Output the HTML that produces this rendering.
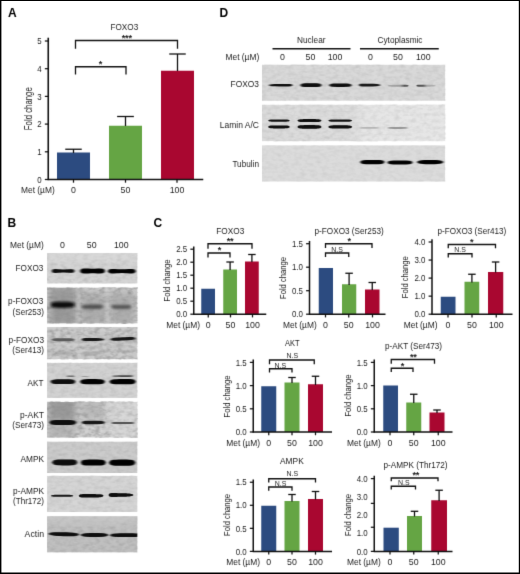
<!DOCTYPE html>
<html lang="en"><head><meta charset="utf-8"><title>Figure</title>
<style>
html,body{margin:0;padding:0;background:#fff;}
body{width:520px;height:574px;overflow:hidden;}
svg{display:block;font-family:"Liberation Sans",sans-serif;}
</style></head><body>
<svg width="520" height="574" viewBox="0 0 520 574">
<defs>
<filter id="b1" x="-20%" y="-100%" width="140%" height="300%"><feGaussianBlur stdDeviation="0.9 0.7"/></filter>
<filter id="b2" x="-20%" y="-100%" width="140%" height="300%"><feGaussianBlur stdDeviation="1.6 1.2"/></filter>
<filter id="b3" x="-30%" y="-30%" width="160%" height="160%"><feGaussianBlur stdDeviation="3.5"/></filter>
<filter id="b0" x="-20%" y="-100%" width="140%" height="300%"><feGaussianBlur stdDeviation="0.6 0.45"/></filter>
<filter id="nz" x="0" y="0" width="100%" height="100%"><feTurbulence type="fractalNoise" baseFrequency="0.18 0.3" numOctaves="2" seed="4"/><feColorMatrix type="matrix" values="0 0 0 0 0  0 0 0 0 0  0 0 0 0 0  0.7 0.7 0.7 0 -0.9"/></filter>
<filter id="nz2" x="0" y="0" width="100%" height="100%"><feTurbulence type="fractalNoise" baseFrequency="0.15 0.25" numOctaves="2" seed="9"/><feColorMatrix type="matrix" values="0 0 0 0 1  0 0 0 0 1  0 0 0 0 1  0.7 0.7 0.7 0 -0.9"/></filter>
<filter id="soft" filterUnits="userSpaceOnUse" x="0" y="0" width="520" height="574" color-interpolation-filters="sRGB"><feConvolveMatrix order="3" kernelMatrix="0 1 0 1 7 1 0 1 0" divisor="11" edgeMode="duplicate" preserveAlpha="false"/></filter>
</defs>
<rect x="0" y="0" width="520" height="574" fill="#fff"/>

<g id="figure" filter="url(#soft)">
<g id="panelA">
<text x="8" y="16.5" font-size="12" font-weight="bold" fill="#000">A</text>
<rect x="57" y="152.5" width="33.00" height="27.00" fill="#2c4b80"/>
<rect x="109" y="125.75" width="33.00" height="53.75" fill="#65a544"/>
<rect x="161" y="70.75" width="33.00" height="108.75" fill="#a90730"/>
<line x1="73.5" y1="149.25" x2="73.5" y2="153" stroke="#111" stroke-width="1.3"/>
<line x1="65.25" y1="149.25" x2="81.75" y2="149.25" stroke="#111" stroke-width="1.3"/>
<line x1="125.5" y1="116.5" x2="125.5" y2="126" stroke="#111" stroke-width="1.3"/>
<line x1="117.125" y1="116.5" x2="133.875" y2="116.5" stroke="#111" stroke-width="1.3"/>
<line x1="177.5" y1="54" x2="177.5" y2="71" stroke="#111" stroke-width="1.3"/>
<line x1="169.25" y1="54" x2="185.75" y2="54" stroke="#111" stroke-width="1.3"/>
<line x1="48.25" y1="37.7" x2="48.25" y2="180.1" stroke="#111" stroke-width="1.6"/>
<line x1="47.65" y1="179.5" x2="203.25" y2="179.5" stroke="#111" stroke-width="1.6"/>
<line x1="44.85" y1="179.5" x2="48.25" y2="179.5" stroke="#111" stroke-width="1.25"/>
<line x1="44.85" y1="151.8" x2="48.25" y2="151.8" stroke="#111" stroke-width="1.25"/>
<line x1="44.85" y1="124.1" x2="48.25" y2="124.1" stroke="#111" stroke-width="1.25"/>
<line x1="44.85" y1="96.4" x2="48.25" y2="96.4" stroke="#111" stroke-width="1.25"/>
<line x1="44.85" y1="68.7" x2="48.25" y2="68.7" stroke="#111" stroke-width="1.25"/>
<line x1="44.85" y1="41.0" x2="48.25" y2="41.0" stroke="#111" stroke-width="1.25"/>
<text x="41.65" y="182.67" font-size="8.8" text-anchor="end" textLength="4.4" lengthAdjust="spacingAndGlyphs" fill="#1c1c1c">0</text>
<text x="41.65" y="154.97" font-size="8.8" text-anchor="end" textLength="4.4" lengthAdjust="spacingAndGlyphs" fill="#1c1c1c">1</text>
<text x="41.65" y="127.27" font-size="8.8" text-anchor="end" textLength="4.4" lengthAdjust="spacingAndGlyphs" fill="#1c1c1c">2</text>
<text x="41.65" y="99.57" font-size="8.8" text-anchor="end" textLength="4.4" lengthAdjust="spacingAndGlyphs" fill="#1c1c1c">3</text>
<text x="41.65" y="71.87" font-size="8.8" text-anchor="end" textLength="4.4" lengthAdjust="spacingAndGlyphs" fill="#1c1c1c">4</text>
<text x="41.65" y="44.17" font-size="8.8" text-anchor="end" textLength="4.4" lengthAdjust="spacingAndGlyphs" fill="#1c1c1c">5</text>
<line x1="73.5" y1="179.5" x2="73.5" y2="182.7" stroke="#111" stroke-width="1.25"/>
<line x1="125.5" y1="179.5" x2="125.5" y2="182.7" stroke="#111" stroke-width="1.25"/>
<line x1="177" y1="179.5" x2="177" y2="182.7" stroke="#111" stroke-width="1.25"/>
<text x="110.5" y="30.17" font-size="8.8" textLength="27.75" lengthAdjust="spacingAndGlyphs" fill="#1c1c1c">FOXO3</text>
<text transform="translate(32.00,108.7) rotate(-90)" font-size="10.6" text-anchor="middle" textLength="43" lengthAdjust="spacingAndGlyphs" fill="#1c1c1c">Fold change</text>
<text x="21" y="192.67" font-size="8.8" textLength="33.75" lengthAdjust="spacingAndGlyphs" fill="#1c1c1c">Met (µM)</text>
<text x="73.5" y="192.67" font-size="8.8" text-anchor="middle" fill="#1c1c1c">0</text>
<text x="125.5" y="192.67" font-size="8.8" text-anchor="middle" fill="#1c1c1c">50</text>
<text x="177" y="192.67" font-size="8.8" text-anchor="middle" fill="#1c1c1c">100</text>
<path d="M75.5 48.75V40.5H177.5V48.75" fill="none" stroke="#111" stroke-width="1.3"/>
<text x="126.75" y="41.29" font-size="9.2" font-weight="bold" text-anchor="middle" fill="#222" letter-spacing="-0.3">***</text>
<path d="M75.5 74.5V66.75H126V74.5" fill="none" stroke="#111" stroke-width="1.3"/>
<text x="100.5" y="67.29" font-size="9.2" font-weight="bold" text-anchor="middle" fill="#222" letter-spacing="-0.3">*</text>
</g>
<g id="panelD">
<text x="219.6" y="16.5" font-size="12" font-weight="bold" fill="#000">D</text>
<text x="311.25" y="42.67" font-size="8.8" text-anchor="middle" textLength="28.5" lengthAdjust="spacingAndGlyphs" fill="#1c1c1c">Nuclear</text>
<text x="400" y="42.67" font-size="8.8" text-anchor="middle" textLength="45" lengthAdjust="spacingAndGlyphs" fill="#1c1c1c">Cytoplasmic</text>
<line x1="272.5" y1="48.75" x2="350.5" y2="48.75" stroke="#111" stroke-width="1.5"/>
<line x1="360" y1="48.75" x2="438.75" y2="48.75" stroke="#111" stroke-width="1.5"/>
<text x="225.5" y="60.17" font-size="8.8" textLength="33.75" lengthAdjust="spacingAndGlyphs" fill="#1c1c1c">Met (µM)</text>
<text x="282.5" y="60.17" font-size="8.8" text-anchor="middle" fill="#1c1c1c">0</text>
<text x="310.5" y="60.17" font-size="8.8" text-anchor="middle" fill="#1c1c1c">50</text>
<text x="335" y="60.17" font-size="8.8" text-anchor="middle" fill="#1c1c1c">100</text>
<text x="370.5" y="60.17" font-size="8.8" text-anchor="middle" fill="#1c1c1c">0</text>
<text x="398" y="60.17" font-size="8.8" text-anchor="middle" fill="#1c1c1c">50</text>
<text x="423.25" y="60.17" font-size="8.8" text-anchor="middle" fill="#1c1c1c">100</text>
<text x="259" y="87.37" font-size="8.8" text-anchor="end" textLength="28.4" lengthAdjust="spacingAndGlyphs" fill="#1c1c1c">FOXO3</text>
<text x="259" y="127.77" font-size="8.8" text-anchor="end" textLength="39.2" lengthAdjust="spacingAndGlyphs" fill="#1c1c1c">Lamin A/C</text>
<text x="259" y="167.37" font-size="8.8" text-anchor="end" textLength="26.6" lengthAdjust="spacingAndGlyphs" fill="#1c1c1c">Tubulin</text>
<linearGradient id="gD2" x1="0" x2="1" y1="0" y2="0"><stop offset="0" stop-color="#dadada"/><stop offset="0.5" stop-color="#dcdcdc"/><stop offset="0.56" stop-color="#e5e5e5"/><stop offset="1" stop-color="#e6e6e6"/></linearGradient>
<linearGradient id="gF5" x1="0" x2="1" y1="0" y2="0"><stop offset="0" stop-color="#a8a8a8"/><stop offset="0.6" stop-color="#9a9a9a"/><stop offset="0.8" stop-color="#505050"/><stop offset="1" stop-color="#606060"/></linearGradient>
<linearGradient id="gF6" x1="0" x2="1" y1="0" y2="0"><stop offset="0" stop-color="#4a4a4a"/><stop offset="0.35" stop-color="#555"/><stop offset="0.55" stop-color="#a5a5a5"/><stop offset="1" stop-color="#b0b0b0"/></linearGradient>
<rect x="262" y="64.8" width="183.10" height="35.90" fill="#d8d8d8"/>
<rect x="262" y="64.8" width="183.10" height="35.90" filter="url(#nz)" opacity="0.12"/>
<rect x="262" y="64.8" width="183.10" height="35.90" filter="url(#nz2)" opacity="0.10"/>
<path d="M268.6 85.20 L269.6 84.59 L270.6 84.39 L271.6 84.26 L272.6 84.18 L273.6 84.12 L274.6 84.08 L275.6 84.06 L276.6 84.04 L277.6 84.02 L278.6 84.01 L279.6 84.00 L280.6 84.00 L281.7 83.99 L282.7 83.98 L283.7 83.97 L284.7 83.95 L285.7 83.93 L286.7 83.92 L287.7 83.92 L288.7 83.94 L289.7 83.99 L290.7 84.10 L291.7 84.33 L292.7 85.20 L292.7 85.20 L291.7 86.07 L290.7 86.30 L289.7 86.41 L288.7 86.46 L287.7 86.48 L286.7 86.48 L285.7 86.47 L284.7 86.45 L283.7 86.43 L282.7 86.42 L281.7 86.41 L280.6 86.40 L279.6 86.40 L278.6 86.39 L277.6 86.38 L276.6 86.36 L275.6 86.34 L274.6 86.32 L273.6 86.28 L272.6 86.22 L271.6 86.14 L270.6 86.01 L269.6 85.81 L268.6 85.20Z" fill="#111" opacity="1" filter="url(#b1)"/>
<path d="M300.2 85.20 L301.1 84.07 L302.0 83.73 L302.9 83.54 L303.8 83.43 L304.7 83.37 L305.6 83.33 L306.5 83.31 L307.4 83.30 L308.3 83.30 L309.2 83.30 L310.1 83.30 L310.9 83.30 L311.8 83.30 L312.7 83.30 L313.6 83.30 L314.5 83.30 L315.4 83.31 L316.3 83.33 L317.2 83.37 L318.1 83.43 L319.0 83.54 L319.9 83.73 L320.8 84.07 L321.7 85.20 L321.7 85.20 L320.8 86.33 L319.9 86.67 L319.0 86.86 L318.1 86.97 L317.2 87.03 L316.3 87.07 L315.4 87.09 L314.5 87.10 L313.6 87.10 L312.7 87.10 L311.8 87.10 L310.9 87.10 L310.1 87.10 L309.2 87.10 L308.3 87.10 L307.4 87.10 L306.5 87.09 L305.6 87.07 L304.7 87.03 L303.8 86.97 L302.9 86.86 L302.0 86.67 L301.1 86.33 L300.2 85.20Z" fill="#080808" opacity="1" filter="url(#b1)"/>
<path d="M329.0 85.20 L329.9 84.19 L330.9 83.89 L331.9 83.72 L332.8 83.62 L333.8 83.56 L334.7 83.53 L335.6 83.51 L336.6 83.50 L337.6 83.50 L338.5 83.50 L339.4 83.50 L340.4 83.50 L341.4 83.50 L342.3 83.50 L343.2 83.50 L344.2 83.50 L345.2 83.51 L346.1 83.53 L347.1 83.56 L348.0 83.62 L348.9 83.72 L349.9 83.89 L350.9 84.19 L351.8 85.20 L351.8 85.20 L350.9 86.21 L349.9 86.51 L348.9 86.68 L348.0 86.78 L347.1 86.84 L346.1 86.87 L345.2 86.89 L344.2 86.90 L343.2 86.90 L342.3 86.90 L341.4 86.90 L340.4 86.90 L339.4 86.90 L338.5 86.90 L337.6 86.90 L336.6 86.90 L335.6 86.89 L334.7 86.87 L333.8 86.84 L332.8 86.78 L331.9 86.68 L330.9 86.51 L329.9 86.21 L329.0 85.20Z" fill="#080808" opacity="1" filter="url(#b1)"/>
<path d="M358.6 85.10 L359.5 84.11 L360.4 83.84 L361.3 83.71 L362.2 83.65 L363.2 83.63 L364.1 83.62 L365.0 83.64 L365.9 83.65 L366.8 83.67 L367.7 83.68 L368.6 83.69 L369.6 83.70 L370.5 83.71 L371.4 83.72 L372.3 83.74 L373.2 83.77 L374.1 83.81 L375.0 83.85 L375.9 83.91 L376.9 83.99 L377.8 84.10 L378.7 84.25 L379.6 84.48 L380.5 85.10 L380.5 85.10 L379.6 85.72 L378.7 85.95 L377.8 86.10 L376.9 86.21 L375.9 86.29 L375.0 86.35 L374.1 86.39 L373.2 86.43 L372.3 86.46 L371.4 86.48 L370.5 86.49 L369.6 86.50 L368.6 86.51 L367.7 86.52 L366.8 86.53 L365.9 86.55 L365.0 86.56 L364.1 86.58 L363.2 86.57 L362.2 86.55 L361.3 86.49 L360.4 86.36 L359.5 86.09 L358.6 85.10Z" fill="#161616" opacity="1" filter="url(#b1)"/>
<path d="M387.5 85.80 L388.4 85.26 L389.3 85.08 L390.2 84.98 L391.1 84.92 L391.9 84.88 L392.8 84.85 L393.7 84.83 L394.6 84.82 L395.5 84.81 L396.4 84.81 L397.3 84.80 L398.1 84.80 L399.0 84.80 L399.9 84.79 L400.8 84.78 L401.7 84.77 L402.6 84.76 L403.5 84.75 L404.4 84.75 L405.2 84.77 L406.1 84.82 L407.0 84.91 L407.9 85.10 L408.8 85.80 L408.8 85.80 L407.9 86.50 L407.0 86.69 L406.1 86.78 L405.2 86.83 L404.4 86.85 L403.5 86.85 L402.6 86.84 L401.7 86.83 L400.8 86.82 L399.9 86.81 L399.0 86.80 L398.1 86.80 L397.3 86.80 L396.4 86.79 L395.5 86.79 L394.6 86.78 L393.7 86.77 L392.8 86.75 L391.9 86.72 L391.1 86.68 L390.2 86.62 L389.3 86.52 L388.4 86.34 L387.5 85.80Z" fill="url(#gF5)" opacity="1" filter="url(#b0)"/>
<path d="M416.2 85.70 L417.0 85.00 L417.8 84.81 L418.6 84.72 L419.5 84.67 L420.3 84.65 L421.1 84.65 L421.9 84.66 L422.7 84.67 L423.6 84.68 L424.4 84.69 L425.2 84.70 L426.0 84.70 L426.8 84.70 L427.6 84.71 L428.4 84.72 L429.3 84.74 L430.1 84.76 L430.9 84.78 L431.7 84.82 L432.5 84.87 L433.4 84.94 L434.2 85.04 L435.0 85.21 L435.8 85.70 L435.8 85.70 L435.0 86.19 L434.2 86.36 L433.4 86.46 L432.5 86.53 L431.7 86.58 L430.9 86.62 L430.1 86.64 L429.3 86.66 L428.4 86.68 L427.6 86.69 L426.8 86.70 L426.0 86.70 L425.2 86.70 L424.4 86.71 L423.6 86.72 L422.7 86.73 L421.9 86.74 L421.1 86.75 L420.3 86.75 L419.5 86.73 L418.6 86.68 L417.8 86.59 L417.0 86.40 L416.2 85.70Z" fill="url(#gF6)" opacity="1" filter="url(#b0)"/>
<rect x="262" y="104.8" width="183.10" height="36.30" fill="url(#gD2)"/>
<rect x="262" y="104.8" width="183.10" height="36.30" filter="url(#nz)" opacity="0.12"/>
<rect x="262" y="104.8" width="183.10" height="36.30" filter="url(#nz2)" opacity="0.10"/>
<path d="M268.0 120.60 L268.9 119.92 L269.8 119.71 L270.7 119.60 L271.6 119.53 L272.6 119.49 L273.5 119.47 L274.4 119.46 L275.3 119.45 L276.2 119.45 L277.1 119.45 L278.0 119.45 L278.9 119.45 L279.9 119.45 L280.8 119.45 L281.7 119.45 L282.6 119.45 L283.5 119.46 L284.4 119.47 L285.3 119.49 L286.2 119.53 L287.2 119.60 L288.1 119.71 L289.0 119.92 L289.9 120.60 L289.9 120.60 L289.0 121.28 L288.1 121.49 L287.2 121.60 L286.2 121.67 L285.3 121.71 L284.4 121.73 L283.5 121.74 L282.6 121.75 L281.7 121.75 L280.8 121.75 L279.9 121.75 L278.9 121.75 L278.0 121.75 L277.1 121.75 L276.2 121.75 L275.3 121.75 L274.4 121.74 L273.5 121.73 L272.6 121.71 L271.6 121.67 L270.7 121.60 L269.8 121.49 L268.9 121.28 L268.0 120.60Z" fill="#111" opacity="1" filter="url(#b0)"/>
<path d="M268.0 126.90 L268.9 126.01 L269.8 125.74 L270.7 125.59 L271.6 125.50 L272.6 125.45 L273.5 125.42 L274.4 125.41 L275.3 125.40 L276.2 125.40 L277.1 125.40 L278.0 125.40 L278.9 125.40 L279.9 125.40 L280.8 125.40 L281.7 125.40 L282.6 125.40 L283.5 125.41 L284.4 125.42 L285.3 125.45 L286.2 125.50 L287.2 125.59 L288.1 125.74 L289.0 126.01 L289.9 126.90 L289.9 126.90 L289.0 127.79 L288.1 128.06 L287.2 128.21 L286.2 128.30 L285.3 128.35 L284.4 128.38 L283.5 128.39 L282.6 128.40 L281.7 128.40 L280.8 128.40 L279.9 128.40 L278.9 128.40 L278.0 128.40 L277.1 128.40 L276.2 128.40 L275.3 128.40 L274.4 128.39 L273.5 128.38 L272.6 128.35 L271.6 128.30 L270.7 128.21 L269.8 128.06 L268.9 127.79 L268.0 126.90Z" fill="#080808" opacity="1" filter="url(#b0)"/>
<path d="M297.3 120.60 L298.3 119.71 L299.3 119.44 L300.3 119.29 L301.4 119.20 L302.4 119.15 L303.4 119.12 L304.4 119.11 L305.4 119.10 L306.4 119.10 L307.4 119.10 L308.4 119.10 L309.5 119.10 L310.5 119.10 L311.5 119.10 L312.5 119.10 L313.5 119.10 L314.5 119.11 L315.5 119.12 L316.5 119.15 L317.6 119.20 L318.6 119.29 L319.6 119.44 L320.6 119.71 L321.6 120.60 L321.6 120.60 L320.6 121.49 L319.6 121.76 L318.6 121.91 L317.6 122.00 L316.5 122.05 L315.5 122.08 L314.5 122.09 L313.5 122.10 L312.5 122.10 L311.5 122.10 L310.5 122.10 L309.5 122.10 L308.4 122.10 L307.4 122.10 L306.4 122.10 L305.4 122.10 L304.4 122.09 L303.4 122.08 L302.4 122.05 L301.4 122.00 L300.3 121.91 L299.3 121.76 L298.3 121.49 L297.3 120.60Z" fill="#111" opacity="1" filter="url(#b0)"/>
<path d="M297.3 126.90 L298.3 125.83 L299.3 125.51 L300.3 125.33 L301.4 125.22 L302.4 125.16 L303.4 125.13 L304.4 125.11 L305.4 125.10 L306.4 125.10 L307.4 125.10 L308.4 125.10 L309.5 125.10 L310.5 125.10 L311.5 125.10 L312.5 125.10 L313.5 125.10 L314.5 125.11 L315.5 125.13 L316.5 125.16 L317.6 125.22 L318.6 125.33 L319.6 125.51 L320.6 125.83 L321.6 126.90 L321.6 126.90 L320.6 127.97 L319.6 128.29 L318.6 128.47 L317.6 128.58 L316.5 128.64 L315.5 128.67 L314.5 128.69 L313.5 128.70 L312.5 128.70 L311.5 128.70 L310.5 128.70 L309.5 128.70 L308.4 128.70 L307.4 128.70 L306.4 128.70 L305.4 128.70 L304.4 128.69 L303.4 128.67 L302.4 128.64 L301.4 128.58 L300.3 128.47 L299.3 128.29 L298.3 127.97 L297.3 126.90Z" fill="#080808" opacity="1" filter="url(#b0)"/>
<path d="M328.1 120.60 L329.1 119.89 L330.1 119.67 L331.1 119.55 L332.1 119.48 L333.1 119.44 L334.2 119.42 L335.2 119.41 L336.2 119.40 L337.2 119.40 L338.2 119.40 L339.2 119.40 L340.2 119.40 L341.2 119.40 L342.2 119.40 L343.2 119.40 L344.2 119.40 L345.2 119.41 L346.2 119.42 L347.3 119.44 L348.3 119.48 L349.3 119.55 L350.3 119.67 L351.3 119.89 L352.3 120.60 L352.3 120.60 L351.3 121.31 L350.3 121.53 L349.3 121.65 L348.3 121.72 L347.3 121.76 L346.2 121.78 L345.2 121.79 L344.2 121.80 L343.2 121.80 L342.2 121.80 L341.2 121.80 L340.2 121.80 L339.2 121.80 L338.2 121.80 L337.2 121.80 L336.2 121.80 L335.2 121.79 L334.2 121.78 L333.1 121.76 L332.1 121.72 L331.1 121.65 L330.1 121.53 L329.1 121.31 L328.1 120.60Z" fill="#111" opacity="1" filter="url(#b0)"/>
<path d="M328.1 126.90 L329.1 125.95 L330.1 125.66 L331.1 125.50 L332.1 125.41 L333.1 125.35 L334.2 125.33 L335.2 125.31 L336.2 125.30 L337.2 125.30 L338.2 125.30 L339.2 125.30 L340.2 125.30 L341.2 125.30 L342.2 125.30 L343.2 125.30 L344.2 125.30 L345.2 125.31 L346.2 125.33 L347.3 125.35 L348.3 125.41 L349.3 125.50 L350.3 125.66 L351.3 125.95 L352.3 126.90 L352.3 126.90 L351.3 127.85 L350.3 128.14 L349.3 128.30 L348.3 128.39 L347.3 128.45 L346.2 128.47 L345.2 128.49 L344.2 128.50 L343.2 128.50 L342.2 128.50 L341.2 128.50 L340.2 128.50 L339.2 128.50 L338.2 128.50 L337.2 128.50 L336.2 128.50 L335.2 128.49 L334.2 128.47 L333.1 128.45 L332.1 128.39 L331.1 128.30 L330.1 128.14 L329.1 127.85 L328.1 126.90Z" fill="#080808" opacity="1" filter="url(#b0)"/>
<path d="M359.6 127.90 L360.4 127.37 L361.2 127.20 L362.0 127.11 L362.8 127.06 L363.6 127.03 L364.5 127.01 L365.3 127.01 L366.1 127.00 L366.9 127.00 L367.7 127.00 L368.5 127.00 L369.3 127.00 L370.1 127.00 L370.9 127.00 L371.7 127.00 L372.5 127.00 L373.3 127.01 L374.1 127.01 L375.0 127.03 L375.8 127.06 L376.6 127.11 L377.4 127.20 L378.2 127.37 L379.0 127.90 L379.0 127.90 L378.2 128.43 L377.4 128.60 L376.6 128.69 L375.8 128.74 L375.0 128.77 L374.1 128.79 L373.3 128.79 L372.5 128.80 L371.7 128.80 L370.9 128.80 L370.1 128.80 L369.3 128.80 L368.5 128.80 L367.7 128.80 L366.9 128.80 L366.1 128.80 L365.3 128.79 L364.5 128.79 L363.6 128.77 L362.8 128.74 L362.0 128.69 L361.2 128.60 L360.4 128.43 L359.6 127.90Z" fill="#aaa" opacity="0.8" filter="url(#b1)"/>
<path d="M387.5 127.90 L388.3 127.31 L389.2 127.13 L390.0 127.03 L390.9 126.97 L391.7 126.93 L392.6 126.92 L393.4 126.91 L394.3 126.90 L395.1 126.90 L396.0 126.90 L396.8 126.90 L397.6 126.90 L398.5 126.90 L399.3 126.90 L400.2 126.90 L401.0 126.90 L401.9 126.91 L402.7 126.92 L403.6 126.93 L404.4 126.97 L405.3 127.03 L406.1 127.13 L407.0 127.31 L407.8 127.90 L407.8 127.90 L407.0 128.49 L406.1 128.67 L405.3 128.77 L404.4 128.83 L403.6 128.87 L402.7 128.88 L401.9 128.89 L401.0 128.90 L400.2 128.90 L399.3 128.90 L398.5 128.90 L397.6 128.90 L396.8 128.90 L396.0 128.90 L395.1 128.90 L394.3 128.90 L393.4 128.89 L392.6 128.88 L391.7 128.87 L390.9 128.83 L390.0 128.77 L389.2 128.67 L388.3 128.49 L387.5 127.90Z" fill="#8a8a8a" opacity="0.85" filter="url(#b1)"/>
<rect x="262" y="145.4" width="183.10" height="36.10" fill="#dbdbdb"/>
<rect x="262" y="145.4" width="183.10" height="36.10" filter="url(#nz)" opacity="0.08"/>
<rect x="262" y="145.4" width="183.10" height="36.10" filter="url(#nz2)" opacity="0.06"/>
<path d="M360.0 162.10 L361.0 160.90 L362.1 160.51 L363.1 160.29 L364.1 160.15 L365.1 160.06 L366.1 160.00 L367.2 159.96 L368.2 159.94 L369.2 159.92 L370.2 159.91 L371.3 159.90 L372.3 159.90 L373.3 159.90 L374.4 159.91 L375.4 159.91 L376.4 159.92 L377.4 159.94 L378.5 159.97 L379.5 160.02 L380.5 160.10 L381.5 160.23 L382.6 160.46 L383.6 160.84 L384.6 162.10 L384.6 162.10 L383.6 163.36 L382.6 163.74 L381.5 163.97 L380.5 164.10 L379.5 164.18 L378.5 164.23 L377.4 164.26 L376.4 164.28 L375.4 164.29 L374.4 164.29 L373.3 164.30 L372.3 164.30 L371.3 164.30 L370.2 164.29 L369.2 164.28 L368.2 164.26 L367.2 164.24 L366.1 164.20 L365.1 164.14 L364.1 164.05 L363.1 163.91 L362.1 163.69 L361.0 163.30 L360.0 162.10Z" fill="#060606" opacity="1" filter="url(#b1)"/>
<path d="M387.4 162.50 L388.4 161.36 L389.5 161.01 L390.5 160.81 L391.6 160.69 L392.6 160.61 L393.7 160.56 L394.8 160.54 L395.8 160.52 L396.9 160.51 L397.9 160.51 L398.9 160.50 L400.0 160.50 L401.1 160.50 L402.1 160.51 L403.1 160.51 L404.2 160.52 L405.2 160.54 L406.3 160.56 L407.4 160.61 L408.4 160.69 L409.5 160.81 L410.5 161.01 L411.6 161.36 L412.6 162.50 L412.6 162.50 L411.6 163.64 L410.5 163.99 L409.5 164.19 L408.4 164.31 L407.4 164.39 L406.3 164.44 L405.2 164.46 L404.2 164.48 L403.1 164.49 L402.1 164.49 L401.1 164.50 L400.0 164.50 L398.9 164.50 L397.9 164.49 L396.9 164.49 L395.8 164.48 L394.8 164.46 L393.7 164.44 L392.6 164.39 L391.6 164.31 L390.5 164.19 L389.5 163.99 L388.4 163.64 L387.4 162.50Z" fill="#060606" opacity="1" filter="url(#b1)"/>
<path d="M416.8 162.10 L417.9 161.13 L419.0 160.77 L420.2 160.52 L421.3 160.34 L422.4 160.21 L423.5 160.10 L424.6 160.03 L425.7 159.97 L426.9 159.94 L428.0 159.92 L429.1 159.90 L430.2 159.90 L431.3 159.90 L432.4 159.92 L433.6 159.94 L434.7 159.97 L435.8 160.03 L436.9 160.10 L438.0 160.21 L439.1 160.34 L440.2 160.52 L441.4 160.77 L442.5 161.13 L443.6 162.10 L443.6 162.10 L442.5 163.07 L441.4 163.43 L440.2 163.68 L439.1 163.86 L438.0 163.99 L436.9 164.10 L435.8 164.17 L434.7 164.23 L433.6 164.26 L432.4 164.28 L431.3 164.30 L430.2 164.30 L429.1 164.30 L428.0 164.28 L426.9 164.26 L425.7 164.23 L424.6 164.17 L423.5 164.10 L422.4 163.99 L421.3 163.86 L420.2 163.68 L419.0 163.43 L417.9 163.07 L416.8 162.10Z" fill="#060606" opacity="1" filter="url(#b1)"/>
</g>
<g id="panelB">
<text x="7.4" y="226.7" font-size="12" font-weight="bold" fill="#000">B</text>
<text x="10" y="248.17" font-size="8.8" textLength="33.75" lengthAdjust="spacingAndGlyphs" fill="#1c1c1c">Met (µM)</text>
<text x="62.5" y="248.17" font-size="8.8" text-anchor="middle" fill="#1c1c1c">0</text>
<text x="91.75" y="248.17" font-size="8.8" text-anchor="middle" fill="#1c1c1c">50</text>
<text x="121.25" y="248.17" font-size="8.8" text-anchor="middle" fill="#1c1c1c">100</text>
<rect x="47.1" y="253.1" width="90.20" height="30.30" fill="#d3d3d3"/>
<rect x="47.1" y="253.1" width="90.20" height="30.30" filter="url(#nz)" opacity="0.15"/>
<rect x="47.1" y="253.1" width="90.20" height="30.30" filter="url(#nz2)" opacity="0.12"/>
<rect x="47.1" y="287.7" width="90.20" height="35.60" fill="#c8c8c8"/>
<rect x="47.1" y="287.7" width="90.20" height="35.60" filter="url(#nz)" opacity="0.45"/>
<rect x="47.1" y="287.7" width="90.20" height="35.60" filter="url(#nz2)" opacity="0.36"/>
<rect x="47.1" y="327.1" width="90.20" height="32.00" fill="#c8c8c8"/>
<rect x="47.1" y="327.1" width="90.20" height="32.00" filter="url(#nz)" opacity="0.35"/>
<rect x="47.1" y="327.1" width="90.20" height="32.00" filter="url(#nz2)" opacity="0.28"/>
<rect x="47.1" y="362.9" width="90.20" height="35.00" fill="#d1d1d1"/>
<rect x="47.1" y="362.9" width="90.20" height="35.00" filter="url(#nz)" opacity="0.12"/>
<rect x="47.1" y="362.9" width="90.20" height="35.00" filter="url(#nz2)" opacity="0.10"/>
<rect x="47.1" y="401.9" width="90.20" height="35.50" fill="#cecece"/>
<rect x="47.1" y="401.9" width="90.20" height="35.50" filter="url(#nz)" opacity="0.45"/>
<rect x="47.1" y="401.9" width="90.20" height="35.50" filter="url(#nz2)" opacity="0.36"/>
<rect x="47.1" y="441.7" width="90.20" height="31.30" fill="#cacaca"/>
<rect x="47.1" y="441.7" width="90.20" height="31.30" filter="url(#nz)" opacity="0.12"/>
<rect x="47.1" y="441.7" width="90.20" height="31.30" filter="url(#nz2)" opacity="0.10"/>
<rect x="47.1" y="475.9" width="90.20" height="36.10" fill="#d4d4d4"/>
<rect x="47.1" y="475.9" width="90.20" height="36.10" filter="url(#nz)" opacity="0.12"/>
<rect x="47.1" y="475.9" width="90.20" height="36.10" filter="url(#nz2)" opacity="0.10"/>
<rect x="47.1" y="516.3" width="90.20" height="36.00" fill="#bebebe"/>
<rect x="47.1" y="516.3" width="90.20" height="36.00" filter="url(#nz)" opacity="0.15"/>
<rect x="47.1" y="516.3" width="90.20" height="36.00" filter="url(#nz2)" opacity="0.12"/>
<clipPath id="cb0"><rect x="47.1" y="253.1" width="90.20" height="30.30"/></clipPath>
<g clip-path="url(#cb0)">
<rect x="47" y="253" width="92" height="8" fill="#dedede" opacity="0.5" filter="url(#b3)"/>
<path d="M51.6 271.00 L52.6 269.49 L53.5 269.15 L54.5 269.03 L55.4 269.02 L56.4 269.06 L57.4 269.13 L58.3 269.22 L59.3 269.30 L60.2 269.37 L61.2 269.43 L62.1 269.48 L63.1 269.50 L64.1 269.48 L65.0 269.44 L66.0 269.39 L66.9 269.33 L67.9 269.26 L68.8 269.20 L69.8 269.14 L70.8 269.12 L71.7 269.14 L72.7 269.26 L73.6 269.59 L74.6 271.00 L74.6 271.00 L73.6 272.41 L72.7 272.74 L71.7 272.86 L70.8 272.88 L69.8 272.86 L68.8 272.80 L67.9 272.74 L66.9 272.67 L66.0 272.61 L65.0 272.56 L64.1 272.52 L63.1 272.50 L62.1 272.52 L61.2 272.57 L60.2 272.63 L59.3 272.70 L58.3 272.78 L57.4 272.87 L56.4 272.94 L55.4 272.98 L54.5 272.97 L53.5 272.85 L52.6 272.51 L51.6 271.00Z" fill="#0a0a0a" opacity="1" filter="url(#b1)"/>
<path d="M80.0 271.00 L81.0 269.27 L82.1 268.82 L83.1 268.61 L84.2 268.52 L85.2 268.49 L86.2 268.51 L87.3 268.54 L88.3 268.58 L89.4 268.62 L90.4 268.66 L91.5 268.69 L92.5 268.70 L93.5 268.69 L94.6 268.67 L95.6 268.64 L96.7 268.60 L97.7 268.57 L98.8 268.54 L99.8 268.53 L100.8 268.56 L101.9 268.66 L102.9 268.87 L104.0 269.32 L105.0 271.00 L105.0 271.00 L104.0 272.68 L102.9 273.13 L101.9 273.34 L100.8 273.44 L99.8 273.47 L98.8 273.46 L97.7 273.43 L96.7 273.40 L95.6 273.36 L94.6 273.33 L93.5 273.31 L92.5 273.30 L91.5 273.31 L90.4 273.34 L89.4 273.38 L88.3 273.42 L87.3 273.46 L86.2 273.49 L85.2 273.51 L84.2 273.48 L83.1 273.39 L82.1 273.18 L81.0 272.73 L80.0 271.00Z" fill="#050505" opacity="1" filter="url(#b1)"/>
<path d="M107.7 271.20 L108.9 269.55 L110.0 269.15 L111.2 268.99 L112.4 268.94 L113.6 268.96 L114.8 269.01 L115.9 269.07 L117.1 269.13 L118.3 269.19 L119.5 269.24 L120.6 269.28 L121.8 269.30 L123.0 269.28 L124.2 269.24 L125.3 269.19 L126.5 269.13 L127.7 269.07 L128.8 269.01 L130.0 268.96 L131.2 268.94 L132.4 268.99 L133.6 269.15 L134.7 269.55 L135.9 271.20 L135.9 271.20 L134.7 272.85 L133.6 273.25 L132.4 273.41 L131.2 273.46 L130.0 273.44 L128.8 273.39 L127.7 273.33 L126.5 273.27 L125.3 273.21 L124.2 273.16 L123.0 273.12 L121.8 273.10 L120.6 273.12 L119.5 273.16 L118.3 273.21 L117.1 273.27 L115.9 273.33 L114.8 273.39 L113.6 273.44 L112.4 273.46 L111.2 273.41 L110.0 273.25 L108.9 272.85 L107.7 271.20Z" fill="#050505" opacity="1" filter="url(#b1)"/>
</g>
<clipPath id="cb1"><rect x="47.1" y="287.7" width="90.20" height="35.60"/></clipPath>
<g clip-path="url(#cb1)">
<rect x="49" y="286" width="28" height="40" fill="#8e8e8e" opacity="0.8" filter="url(#b3)"/>
<rect x="80" y="293" width="26" height="32" fill="#a0a0a0" opacity="0.7" filter="url(#b3)"/>
<rect x="109.5" y="293" width="25" height="32" fill="#a0a0a0" opacity="0.7" filter="url(#b3)"/>
<rect x="76.5" y="286" width="3.5" height="40" fill="#d6d6d6" opacity="0.35" filter="url(#b2)"/>
<rect x="105.5" y="286" width="4" height="40" fill="#d6d6d6" opacity="0.35" filter="url(#b2)"/>
<path d="M50.5 304.80 L51.5 302.96 L52.5 302.40 L53.6 302.09 L54.6 301.91 L55.6 301.81 L56.6 301.75 L57.6 301.72 L58.7 301.71 L59.7 301.70 L60.7 301.70 L61.7 301.70 L62.8 301.70 L63.8 301.70 L64.8 301.71 L65.8 301.72 L66.8 301.74 L67.9 301.77 L68.9 301.81 L69.9 301.89 L70.9 302.01 L71.9 302.20 L73.0 302.52 L74.0 303.06 L75.0 304.80 L75.0 304.80 L74.0 306.54 L73.0 307.08 L71.9 307.40 L70.9 307.59 L69.9 307.71 L68.9 307.79 L67.9 307.83 L66.8 307.86 L65.8 307.88 L64.8 307.89 L63.8 307.90 L62.8 307.90 L61.7 307.90 L60.7 307.90 L59.7 307.90 L58.7 307.89 L57.6 307.88 L56.6 307.85 L55.6 307.79 L54.6 307.69 L53.6 307.51 L52.5 307.20 L51.5 306.64 L50.5 304.80Z" fill="#0c0c0c" opacity="1" filter="url(#b2)"/>
<path d="M81.3 306.80 L82.2 305.54 L83.1 305.16 L84.0 304.93 L85.0 304.80 L85.9 304.72 L86.8 304.67 L87.7 304.64 L88.6 304.62 L89.5 304.61 L90.4 304.61 L91.3 304.60 L92.2 304.60 L93.2 304.60 L94.1 304.59 L95.0 304.58 L95.9 304.57 L96.8 304.56 L97.7 304.57 L98.6 304.59 L99.6 304.65 L100.5 304.77 L101.4 304.98 L102.3 305.39 L103.2 306.80 L103.2 306.80 L102.3 308.21 L101.4 308.62 L100.5 308.83 L99.6 308.95 L98.6 309.01 L97.7 309.03 L96.8 309.04 L95.9 309.03 L95.0 309.02 L94.1 309.01 L93.2 309.00 L92.2 309.00 L91.3 309.00 L90.4 308.99 L89.5 308.99 L88.6 308.98 L87.7 308.96 L86.8 308.93 L85.9 308.88 L85.0 308.80 L84.0 308.67 L83.1 308.44 L82.2 308.06 L81.3 306.80Z" fill="#484848" opacity="0.9" filter="url(#b2)"/>
<path d="M111.0 306.80 L111.9 305.45 L112.7 305.06 L113.6 304.86 L114.4 304.75 L115.3 304.69 L116.1 304.67 L117.0 304.66 L117.8 304.67 L118.7 304.68 L119.5 304.69 L120.4 304.70 L121.2 304.70 L122.1 304.70 L123.0 304.69 L123.8 304.68 L124.7 304.67 L125.5 304.66 L126.4 304.67 L127.2 304.69 L128.1 304.75 L128.9 304.86 L129.8 305.06 L130.6 305.45 L131.5 306.80 L131.5 306.80 L130.6 308.15 L129.8 308.54 L128.9 308.74 L128.1 308.85 L127.2 308.91 L126.4 308.93 L125.5 308.94 L124.7 308.93 L123.8 308.92 L123.0 308.91 L122.1 308.90 L121.2 308.90 L120.4 308.90 L119.5 308.91 L118.7 308.92 L117.8 308.93 L117.0 308.94 L116.1 308.93 L115.3 308.91 L114.4 308.85 L113.6 308.74 L112.7 308.54 L111.9 308.15 L111.0 306.80Z" fill="#4c4c4c" opacity="0.85" filter="url(#b2)"/>
</g>
<clipPath id="cb2"><rect x="47.1" y="327.1" width="90.20" height="32.00"/></clipPath>
<g clip-path="url(#cb2)">
<path d="M51.2 339.70 L52.2 338.81 L53.2 338.54 L54.2 338.39 L55.1 338.30 L56.1 338.25 L57.1 338.22 L58.1 338.21 L59.1 338.20 L60.0 338.20 L61.0 338.20 L62.0 338.20 L63.0 338.20 L64.0 338.20 L65.0 338.20 L66.0 338.20 L66.9 338.20 L67.9 338.21 L68.9 338.22 L69.9 338.25 L70.9 338.30 L71.8 338.39 L72.8 338.54 L73.8 338.81 L74.8 339.70 L74.8 339.70 L73.8 340.59 L72.8 340.86 L71.8 341.01 L70.9 341.10 L69.9 341.15 L68.9 341.18 L67.9 341.19 L66.9 341.20 L66.0 341.20 L65.0 341.20 L64.0 341.20 L63.0 341.20 L62.0 341.20 L61.0 341.20 L60.0 341.20 L59.1 341.20 L58.1 341.19 L57.1 341.18 L56.1 341.15 L55.1 341.10 L54.2 341.01 L53.2 340.86 L52.2 340.59 L51.2 339.70Z" fill="#505050" opacity="0.9" filter="url(#b1)"/>
<path d="M81.6 339.50 L82.5 338.51 L83.5 338.22 L84.4 338.08 L85.4 338.00 L86.3 337.97 L87.2 337.96 L88.2 337.96 L89.1 337.97 L90.1 337.98 L91.0 337.99 L92.0 338.00 L92.9 338.00 L93.8 338.01 L94.8 338.02 L95.7 338.04 L96.7 338.07 L97.6 338.11 L98.5 338.15 L99.5 338.21 L100.4 338.30 L101.4 338.41 L102.3 338.57 L103.3 338.82 L104.2 339.50 L104.2 339.50 L103.3 340.18 L102.3 340.43 L101.4 340.59 L100.4 340.70 L99.5 340.79 L98.5 340.85 L97.6 340.89 L96.7 340.93 L95.7 340.96 L94.8 340.98 L93.8 340.99 L92.9 341.00 L92.0 341.00 L91.0 341.01 L90.1 341.02 L89.1 341.03 L88.2 341.04 L87.2 341.04 L86.3 341.03 L85.4 341.00 L84.4 340.92 L83.5 340.78 L82.5 340.49 L81.6 339.50Z" fill="#141414" opacity="1" filter="url(#b1)"/>
<path d="M110.2 339.50 L111.3 338.55 L112.3 338.22 L113.4 338.01 L114.4 337.86 L115.5 337.75 L116.5 337.66 L117.6 337.58 L118.7 337.52 L119.7 337.46 L120.8 337.41 L121.8 337.35 L122.9 337.30 L124.0 337.25 L125.0 337.20 L126.1 337.15 L127.1 337.10 L128.2 337.06 L129.2 337.03 L130.3 337.00 L131.4 337.01 L132.4 337.05 L133.5 337.16 L134.5 337.40 L135.6 338.30 L135.6 338.30 L134.5 339.30 L133.5 339.64 L132.4 339.85 L131.4 339.99 L130.3 340.10 L129.2 340.17 L128.2 340.24 L127.1 340.30 L126.1 340.35 L125.0 340.40 L124.0 340.45 L122.9 340.50 L121.8 340.55 L120.8 340.59 L119.7 340.64 L118.7 340.68 L117.6 340.72 L116.5 340.74 L115.5 340.75 L114.4 340.74 L113.4 340.69 L112.3 340.58 L111.3 340.35 L110.2 339.50Z" fill="#121212" opacity="1" filter="url(#b1)"/>
<path d="M51.0 353.60 L52.0 353.01 L53.0 352.83 L54.0 352.73 L55.0 352.67 L56.0 352.63 L57.0 352.62 L58.0 352.61 L59.0 352.60 L60.0 352.60 L61.0 352.60 L62.0 352.60 L63.0 352.60 L64.0 352.60 L65.0 352.60 L66.0 352.60 L67.0 352.60 L68.0 352.61 L69.0 352.62 L70.0 352.63 L71.0 352.67 L72.0 352.73 L73.0 352.83 L74.0 353.01 L75.0 353.60 L75.0 353.60 L74.0 354.19 L73.0 354.37 L72.0 354.47 L71.0 354.53 L70.0 354.57 L69.0 354.58 L68.0 354.59 L67.0 354.60 L66.0 354.60 L65.0 354.60 L64.0 354.60 L63.0 354.60 L62.0 354.60 L61.0 354.60 L60.0 354.60 L59.0 354.60 L58.0 354.59 L57.0 354.58 L56.0 354.57 L55.0 354.53 L54.0 354.47 L53.0 354.37 L52.0 354.19 L51.0 353.60Z" fill="#8c8c8c" opacity="0.75" filter="url(#b2)"/>
<path d="M81.0 353.30 L82.0 352.71 L82.9 352.53 L83.9 352.43 L84.8 352.37 L85.8 352.33 L86.8 352.32 L87.7 352.31 L88.7 352.30 L89.6 352.30 L90.6 352.30 L91.5 352.30 L92.5 352.30 L93.5 352.30 L94.4 352.30 L95.4 352.30 L96.3 352.30 L97.3 352.31 L98.2 352.32 L99.2 352.33 L100.2 352.37 L101.1 352.43 L102.1 352.53 L103.0 352.71 L104.0 353.30 L104.0 353.30 L103.0 353.89 L102.1 354.07 L101.1 354.17 L100.2 354.23 L99.2 354.27 L98.2 354.28 L97.3 354.29 L96.3 354.30 L95.4 354.30 L94.4 354.30 L93.5 354.30 L92.5 354.30 L91.5 354.30 L90.6 354.30 L89.6 354.30 L88.7 354.30 L87.7 354.29 L86.8 354.28 L85.8 354.27 L84.8 354.23 L83.9 354.17 L82.9 354.07 L82.0 353.89 L81.0 353.30Z" fill="#969696" opacity="0.75" filter="url(#b2)"/>
<path d="M82.0 347.80 L82.9 347.38 L83.8 347.26 L84.6 347.19 L85.5 347.15 L86.4 347.12 L87.2 347.11 L88.1 347.10 L89.0 347.10 L89.9 347.10 L90.8 347.10 L91.6 347.10 L92.5 347.10 L93.4 347.10 L94.2 347.10 L95.1 347.10 L96.0 347.10 L96.9 347.10 L97.8 347.11 L98.6 347.12 L99.5 347.15 L100.4 347.19 L101.2 347.26 L102.1 347.38 L103.0 347.80 L103.0 347.80 L102.1 348.22 L101.2 348.34 L100.4 348.41 L99.5 348.45 L98.6 348.48 L97.8 348.49 L96.9 348.50 L96.0 348.50 L95.1 348.50 L94.2 348.50 L93.4 348.50 L92.5 348.50 L91.6 348.50 L90.8 348.50 L89.9 348.50 L89.0 348.50 L88.1 348.50 L87.2 348.49 L86.4 348.48 L85.5 348.45 L84.6 348.41 L83.8 348.34 L82.9 348.22 L82.0 347.80Z" fill="#aaa" opacity="0.6" filter="url(#b2)"/>
<path d="M111.0 346.50 L111.6 346.08 L112.2 345.96 L112.9 345.89 L113.5 345.85 L114.1 345.82 L114.8 345.81 L115.4 345.80 L116.0 345.80 L116.6 345.80 L117.2 345.80 L117.9 345.80 L118.5 345.80 L119.1 345.80 L119.8 345.80 L120.4 345.80 L121.0 345.80 L121.6 345.80 L122.2 345.81 L122.9 345.82 L123.5 345.85 L124.1 345.89 L124.8 345.96 L125.4 346.08 L126.0 346.50 L126.0 346.50 L125.4 346.92 L124.8 347.04 L124.1 347.11 L123.5 347.15 L122.9 347.18 L122.2 347.19 L121.6 347.20 L121.0 347.20 L120.4 347.20 L119.8 347.20 L119.1 347.20 L118.5 347.20 L117.9 347.20 L117.2 347.20 L116.6 347.20 L116.0 347.20 L115.4 347.20 L114.8 347.19 L114.1 347.18 L113.5 347.15 L112.9 347.11 L112.2 347.04 L111.6 346.92 L111.0 346.50Z" fill="#a0a0a0" opacity="0.6" filter="url(#b2)"/>
<path d="M111.0 351.50 L112.0 351.08 L112.9 350.96 L113.9 350.89 L114.8 350.85 L115.8 350.82 L116.8 350.81 L117.7 350.80 L118.7 350.80 L119.6 350.80 L120.6 350.80 L121.5 350.80 L122.5 350.80 L123.5 350.80 L124.4 350.80 L125.4 350.80 L126.3 350.80 L127.3 350.80 L128.2 350.81 L129.2 350.82 L130.2 350.85 L131.1 350.89 L132.1 350.96 L133.0 351.08 L134.0 351.50 L134.0 351.50 L133.0 351.92 L132.1 352.04 L131.1 352.11 L130.2 352.15 L129.2 352.18 L128.2 352.19 L127.3 352.20 L126.3 352.20 L125.4 352.20 L124.4 352.20 L123.5 352.20 L122.5 352.20 L121.5 352.20 L120.6 352.20 L119.6 352.20 L118.7 352.20 L117.7 352.20 L116.8 352.19 L115.8 352.18 L114.8 352.15 L113.9 352.11 L112.9 352.04 L112.0 351.92 L111.0 351.50Z" fill="#a8a8a8" opacity="0.6" filter="url(#b2)"/>
</g>
<clipPath id="cb3"><rect x="47.1" y="362.9" width="90.20" height="35.00"/></clipPath>
<g clip-path="url(#cb3)">
<path d="M50.4 381.70 L51.4 380.33 L52.5 379.90 L53.5 379.66 L54.6 379.51 L55.6 379.42 L56.7 379.37 L57.7 379.34 L58.8 379.32 L59.8 379.31 L60.9 379.31 L61.9 379.30 L63.0 379.30 L64.0 379.30 L65.0 379.29 L66.1 379.29 L67.1 379.29 L68.2 379.29 L69.2 379.31 L70.3 379.34 L71.3 379.41 L72.4 379.55 L73.4 379.79 L74.5 380.22 L75.5 381.70 L75.5 381.70 L74.5 383.18 L73.4 383.61 L72.4 383.85 L71.3 383.99 L70.3 384.06 L69.2 384.09 L68.2 384.11 L67.1 384.11 L66.1 384.11 L65.0 384.11 L64.0 384.10 L63.0 384.10 L61.9 384.10 L60.9 384.09 L59.8 384.09 L58.8 384.08 L57.7 384.06 L56.7 384.03 L55.6 383.98 L54.6 383.89 L53.5 383.74 L52.5 383.50 L51.4 383.07 L50.4 381.70Z" fill="#080808" opacity="1" filter="url(#b1)"/>
<path d="M80.0 381.70 L81.0 380.16 L82.1 379.69 L83.1 379.43 L84.2 379.28 L85.2 379.19 L86.2 379.14 L87.3 379.12 L88.3 379.11 L89.4 379.10 L90.4 379.10 L91.5 379.10 L92.5 379.10 L93.5 379.10 L94.6 379.11 L95.6 379.11 L96.7 379.12 L97.7 379.14 L98.8 379.17 L99.8 379.23 L100.8 379.33 L101.9 379.48 L102.9 379.75 L104.0 380.21 L105.0 381.70 L105.0 381.70 L104.0 383.19 L102.9 383.65 L101.9 383.92 L100.8 384.07 L99.8 384.17 L98.8 384.23 L97.7 384.26 L96.7 384.28 L95.6 384.29 L94.6 384.29 L93.5 384.30 L92.5 384.30 L91.5 384.30 L90.4 384.30 L89.4 384.30 L88.3 384.29 L87.3 384.28 L86.2 384.26 L85.2 384.21 L84.2 384.12 L83.1 383.97 L82.1 383.71 L81.0 383.24 L80.0 381.70Z" fill="#050505" opacity="1" filter="url(#b1)"/>
<path d="M109.4 381.70 L110.5 380.21 L111.6 379.75 L112.7 379.48 L113.8 379.33 L114.9 379.23 L116.0 379.17 L117.1 379.14 L118.2 379.12 L119.3 379.11 L120.4 379.11 L121.5 379.10 L122.7 379.10 L123.8 379.10 L124.9 379.09 L126.0 379.08 L127.1 379.07 L128.2 379.07 L129.3 379.08 L130.4 379.11 L131.5 379.18 L132.6 379.32 L133.7 379.57 L134.8 380.05 L135.9 381.70 L135.9 381.70 L134.8 383.35 L133.7 383.83 L132.6 384.08 L131.5 384.22 L130.4 384.29 L129.3 384.32 L128.2 384.33 L127.1 384.33 L126.0 384.32 L124.9 384.31 L123.8 384.30 L122.7 384.30 L121.5 384.30 L120.4 384.29 L119.3 384.29 L118.2 384.28 L117.1 384.26 L116.0 384.23 L114.9 384.17 L113.8 384.07 L112.7 383.92 L111.6 383.65 L110.5 383.19 L109.4 381.70Z" fill="#050505" opacity="1" filter="url(#b1)"/>
<path d="M66.0 376.20 L66.4 375.84 L66.8 375.72 L67.1 375.64 L67.5 375.60 L67.9 375.56 L68.2 375.54 L68.6 375.53 L69.0 375.52 L69.4 375.51 L69.8 375.51 L70.1 375.50 L70.5 375.50 L70.9 375.50 L71.2 375.50 L71.6 375.50 L72.0 375.50 L72.4 375.50 L72.8 375.51 L73.1 375.52 L73.5 375.55 L73.9 375.59 L74.2 375.66 L74.6 375.78 L75.0 376.20 L75.0 376.20 L74.6 376.62 L74.2 376.74 L73.9 376.81 L73.5 376.85 L73.1 376.88 L72.8 376.89 L72.4 376.90 L72.0 376.90 L71.6 376.90 L71.2 376.90 L70.9 376.90 L70.5 376.90 L70.1 376.90 L69.8 376.89 L69.4 376.89 L69.0 376.88 L68.6 376.87 L68.2 376.86 L67.9 376.84 L67.5 376.80 L67.1 376.76 L66.8 376.68 L66.4 376.56 L66.0 376.20Z" fill="#555" opacity="0.8" filter="url(#b1)"/>
<path d="M81.5 376.40 L81.8 376.05 L82.1 375.96 L82.4 375.91 L82.8 375.89 L83.1 375.88 L83.4 375.88 L83.7 375.88 L84.0 375.88 L84.3 375.89 L84.6 375.89 L84.9 375.90 L85.2 375.90 L85.6 375.90 L85.9 375.91 L86.2 375.91 L86.5 375.92 L86.8 375.93 L87.1 375.94 L87.4 375.96 L87.8 375.98 L88.1 376.02 L88.4 376.07 L88.7 376.15 L89.0 376.40 L89.0 376.40 L88.7 376.65 L88.4 376.73 L88.1 376.78 L87.8 376.82 L87.4 376.84 L87.1 376.86 L86.8 376.87 L86.5 376.88 L86.2 376.89 L85.9 376.89 L85.6 376.90 L85.2 376.90 L84.9 376.90 L84.6 376.91 L84.3 376.91 L84.0 376.92 L83.7 376.92 L83.4 376.92 L83.1 376.92 L82.8 376.91 L82.4 376.89 L82.1 376.84 L81.8 376.75 L81.5 376.40Z" fill="#777" opacity="0.6" filter="url(#b1)"/>
<path d="M112.0 376.10 L112.9 375.73 L113.8 375.60 L114.7 375.51 L115.6 375.45 L116.5 375.41 L117.4 375.38 L118.3 375.35 L119.2 375.34 L120.1 375.32 L121.0 375.31 L121.9 375.30 L122.8 375.30 L123.6 375.30 L124.5 375.29 L125.4 375.29 L126.3 375.28 L127.2 375.28 L128.1 375.28 L129.0 375.29 L129.9 375.31 L130.8 375.35 L131.7 375.42 L132.6 375.57 L133.5 376.10 L133.5 376.10 L132.6 376.63 L131.7 376.78 L130.8 376.85 L129.9 376.89 L129.0 376.91 L128.1 376.92 L127.2 376.92 L126.3 376.92 L125.4 376.91 L124.5 376.91 L123.6 376.90 L122.8 376.90 L121.9 376.90 L121.0 376.89 L120.1 376.88 L119.2 376.86 L118.3 376.85 L117.4 376.82 L116.5 376.79 L115.6 376.75 L114.7 376.69 L113.8 376.60 L112.9 376.47 L112.0 376.10Z" fill="#333" opacity="0.85" filter="url(#b1)"/>
</g>
<clipPath id="cb4"><rect x="47.1" y="401.9" width="90.20" height="35.50"/></clipPath>
<g clip-path="url(#cb4)">
<rect x="48" y="398" width="28" height="24" fill="#8f8f8f" opacity="0.85" filter="url(#b3)"/>
<rect x="48" y="424" width="28" height="16" fill="#a8a8a8" opacity="0.7" filter="url(#b3)"/>
<rect x="81" y="400" width="23" height="20" fill="#aaaaaa" opacity="0.6" filter="url(#b3)"/>
<rect x="108" y="400" width="30" height="40" fill="#dcdcdc" opacity="0.5" filter="url(#b3)"/>
<path d="M49.3 422.50 L50.4 421.02 L51.6 420.57 L52.7 420.32 L53.8 420.17 L54.9 420.09 L56.1 420.04 L57.2 420.02 L58.3 420.01 L59.5 420.00 L60.6 420.00 L61.7 420.00 L62.9 420.00 L64.0 420.00 L65.1 420.00 L66.2 420.00 L67.4 420.01 L68.5 420.02 L69.6 420.04 L70.8 420.09 L71.9 420.17 L73.0 420.32 L74.1 420.57 L75.3 421.02 L76.4 422.50 L76.4 422.50 L75.3 423.98 L74.1 424.43 L73.0 424.68 L71.9 424.83 L70.8 424.91 L69.6 424.96 L68.5 424.98 L67.4 424.99 L66.2 425.00 L65.1 425.00 L64.0 425.00 L62.9 425.00 L61.7 425.00 L60.6 425.00 L59.5 425.00 L58.3 424.99 L57.2 424.98 L56.1 424.96 L54.9 424.91 L53.8 424.83 L52.7 424.68 L51.6 424.43 L50.4 423.98 L49.3 422.50Z" fill="#0c0c0c" opacity="1" filter="url(#b1)"/>
<path d="M81.6 422.50 L82.6 421.39 L83.5 421.07 L84.5 420.91 L85.5 420.82 L86.5 420.78 L87.4 420.76 L88.4 420.76 L89.4 420.77 L90.4 420.78 L91.3 420.79 L92.3 420.80 L93.3 420.80 L94.3 420.80 L95.2 420.81 L96.2 420.81 L97.2 420.82 L98.2 420.84 L99.2 420.86 L100.1 420.90 L101.1 420.96 L102.1 421.07 L103.0 421.24 L104.0 421.54 L105.0 422.50 L105.0 422.50 L104.0 423.46 L103.0 423.76 L102.1 423.93 L101.1 424.04 L100.1 424.10 L99.2 424.14 L98.2 424.16 L97.2 424.18 L96.2 424.19 L95.2 424.19 L94.3 424.20 L93.3 424.20 L92.3 424.20 L91.3 424.21 L90.4 424.22 L89.4 424.23 L88.4 424.24 L87.4 424.24 L86.5 424.22 L85.5 424.18 L84.5 424.09 L83.5 423.93 L82.6 423.61 L81.6 422.50Z" fill="#181818" opacity="1" filter="url(#b1)"/>
<path d="M111.2 423.00 L112.2 422.29 L113.1 422.09 L114.1 421.98 L115.1 421.93 L116.1 421.90 L117.0 421.88 L118.0 421.88 L119.0 421.89 L119.9 421.89 L120.9 421.89 L121.9 421.90 L122.8 421.90 L123.8 421.90 L124.8 421.90 L125.8 421.90 L126.7 421.90 L127.7 421.91 L128.7 421.92 L129.6 421.94 L130.6 421.97 L131.6 422.04 L132.6 422.15 L133.5 422.35 L134.5 423.00 L134.5 423.00 L133.5 423.65 L132.6 423.85 L131.6 423.96 L130.6 424.03 L129.6 424.06 L128.7 424.08 L127.7 424.09 L126.7 424.10 L125.8 424.10 L124.8 424.10 L123.8 424.10 L122.8 424.10 L121.9 424.10 L120.9 424.11 L119.9 424.11 L119.0 424.11 L118.0 424.12 L117.0 424.12 L116.1 424.10 L115.1 424.07 L114.1 424.02 L113.1 423.91 L112.2 423.71 L111.2 423.00Z" fill="#444" opacity="0.9" filter="url(#b1)"/>
</g>
<clipPath id="cb5"><rect x="47.1" y="441.7" width="90.20" height="31.30"/></clipPath>
<g clip-path="url(#cb5)">
<path d="M52.0 462.40 L53.1 460.72 L54.1 460.20 L55.2 459.89 L56.2 459.70 L57.3 459.58 L58.3 459.51 L59.4 459.47 L60.4 459.44 L61.5 459.42 L62.5 459.41 L63.6 459.40 L64.7 459.40 L65.7 459.40 L66.8 459.40 L67.8 459.40 L68.9 459.41 L69.9 459.42 L71.0 459.45 L72.0 459.50 L73.1 459.60 L74.1 459.78 L75.2 460.08 L76.2 460.62 L77.3 462.40 L77.3 462.40 L76.2 464.18 L75.2 464.72 L74.1 465.02 L73.1 465.20 L72.0 465.30 L71.0 465.35 L69.9 465.38 L68.9 465.39 L67.8 465.40 L66.8 465.40 L65.7 465.40 L64.7 465.40 L63.6 465.40 L62.5 465.39 L61.5 465.38 L60.4 465.36 L59.4 465.33 L58.3 465.29 L57.3 465.22 L56.2 465.10 L55.2 464.91 L54.1 464.60 L53.1 464.08 L52.0 462.40Z" fill="#080808" opacity="1" filter="url(#b1)"/>
<path d="M80.8 462.60 L81.8 460.82 L82.9 460.28 L83.9 459.98 L85.0 459.80 L86.0 459.70 L87.1 459.65 L88.1 459.62 L89.2 459.61 L90.2 459.60 L91.3 459.60 L92.3 459.60 L93.3 459.60 L94.4 459.60 L95.4 459.60 L96.5 459.60 L97.5 459.61 L98.6 459.62 L99.6 459.65 L100.7 459.70 L101.7 459.80 L102.8 459.98 L103.8 460.28 L104.9 460.82 L105.9 462.60 L105.9 462.60 L104.9 464.38 L103.8 464.92 L102.8 465.22 L101.7 465.40 L100.7 465.50 L99.6 465.55 L98.6 465.58 L97.5 465.59 L96.5 465.60 L95.4 465.60 L94.4 465.60 L93.3 465.60 L92.3 465.60 L91.3 465.60 L90.2 465.60 L89.2 465.59 L88.1 465.58 L87.1 465.55 L86.0 465.50 L85.0 465.40 L83.9 465.22 L82.9 464.92 L81.8 464.38 L80.8 462.60Z" fill="#060606" opacity="1" filter="url(#b1)"/>
<path d="M108.9 462.70 L110.0 460.91 L111.1 460.36 L112.2 460.05 L113.3 459.86 L114.4 459.75 L115.5 459.68 L116.6 459.64 L117.7 459.62 L118.8 459.61 L119.9 459.61 L121.0 459.60 L122.2 459.60 L123.3 459.60 L124.4 459.60 L125.5 459.60 L126.6 459.61 L127.7 459.62 L128.8 459.65 L129.9 459.71 L131.0 459.81 L132.1 459.99 L133.2 460.30 L134.3 460.86 L135.4 462.70 L135.4 462.70 L134.3 464.54 L133.2 465.10 L132.1 465.41 L131.0 465.59 L129.9 465.69 L128.8 465.75 L127.7 465.78 L126.6 465.79 L125.5 465.80 L124.4 465.80 L123.3 465.80 L122.2 465.80 L121.0 465.80 L119.9 465.79 L118.8 465.79 L117.7 465.78 L116.6 465.76 L115.5 465.72 L114.4 465.65 L113.3 465.54 L112.2 465.35 L111.1 465.04 L110.0 464.49 L108.9 462.70Z" fill="#060606" opacity="1" filter="url(#b1)"/>
</g>
<clipPath id="cb6"><rect x="47.1" y="475.9" width="90.20" height="36.10"/></clipPath>
<g clip-path="url(#cb6)">
<path d="M50.8 495.80 L51.7 495.21 L52.7 495.03 L53.6 494.93 L54.6 494.87 L55.5 494.83 L56.5 494.82 L57.4 494.81 L58.3 494.80 L59.3 494.80 L60.2 494.80 L61.2 494.80 L62.1 494.80 L63.0 494.80 L64.0 494.80 L64.9 494.80 L65.9 494.80 L66.8 494.81 L67.8 494.82 L68.7 494.83 L69.6 494.87 L70.6 494.93 L71.5 495.03 L72.5 495.21 L73.4 495.80 L73.4 495.80 L72.5 496.39 L71.5 496.57 L70.6 496.67 L69.6 496.73 L68.7 496.77 L67.8 496.78 L66.8 496.79 L65.9 496.80 L64.9 496.80 L64.0 496.80 L63.0 496.80 L62.1 496.80 L61.2 496.80 L60.2 496.80 L59.3 496.80 L58.3 496.80 L57.4 496.79 L56.5 496.78 L55.5 496.77 L54.6 496.73 L53.6 496.67 L52.7 496.57 L51.7 496.39 L50.8 495.80Z" fill="#151515" opacity="1" filter="url(#b0)"/>
<path d="M78.6 495.80 L79.6 494.69 L80.7 494.37 L81.7 494.21 L82.8 494.12 L83.8 494.08 L84.8 494.06 L85.9 494.06 L86.9 494.07 L88.0 494.08 L89.0 494.09 L90.1 494.10 L91.1 494.10 L92.1 494.10 L93.2 494.11 L94.2 494.11 L95.3 494.12 L96.3 494.14 L97.3 494.16 L98.4 494.20 L99.4 494.26 L100.5 494.37 L101.5 494.54 L102.6 494.84 L103.6 495.80 L103.6 495.80 L102.6 496.76 L101.5 497.06 L100.5 497.23 L99.4 497.34 L98.4 497.40 L97.3 497.44 L96.3 497.46 L95.3 497.48 L94.2 497.49 L93.2 497.49 L92.1 497.50 L91.1 497.50 L90.1 497.50 L89.0 497.51 L88.0 497.52 L86.9 497.53 L85.9 497.54 L84.8 497.54 L83.8 497.52 L82.8 497.48 L81.7 497.39 L80.7 497.23 L79.6 496.91 L78.6 495.80Z" fill="#0a0a0a" opacity="1" filter="url(#b0)"/>
<path d="M108.4 495.00 L109.5 493.62 L110.5 493.26 L111.6 493.10 L112.6 493.03 L113.7 493.02 L114.7 493.03 L115.8 493.06 L116.8 493.10 L117.8 493.14 L118.9 493.17 L120.0 493.19 L121.0 493.20 L122.0 493.21 L123.1 493.23 L124.2 493.26 L125.2 493.29 L126.2 493.33 L127.3 493.39 L128.3 493.47 L129.4 493.57 L130.4 493.70 L131.5 493.90 L132.6 494.19 L133.6 495.00 L133.6 495.00 L132.6 495.81 L131.5 496.10 L130.4 496.30 L129.4 496.43 L128.3 496.53 L127.3 496.61 L126.2 496.67 L125.2 496.71 L124.2 496.74 L123.1 496.77 L122.0 496.79 L121.0 496.80 L120.0 496.81 L118.9 496.83 L117.8 496.86 L116.8 496.90 L115.8 496.94 L114.7 496.97 L113.7 496.98 L112.6 496.97 L111.6 496.90 L110.5 496.74 L109.5 496.38 L108.4 495.00Z" fill="#080808" opacity="1" filter="url(#b0)"/>
</g>
<clipPath id="cb7"><rect x="47.1" y="516.3" width="90.20" height="36.00"/></clipPath>
<g clip-path="url(#cb7)">
<rect x="47" y="514" width="92" height="10" fill="#cccccc" opacity="0.6" filter="url(#b3)"/>
<path d="M48.3 533.80 L49.6 532.90 L50.9 532.61 L52.2 532.43 L53.4 532.31 L54.7 532.24 L56.0 532.19 L57.3 532.17 L58.6 532.16 L59.9 532.16 L61.2 532.16 L62.5 532.18 L63.8 532.20 L65.0 532.24 L66.3 532.29 L67.6 532.34 L68.9 532.41 L70.2 532.48 L71.5 532.56 L72.8 532.67 L74.1 532.80 L75.3 532.97 L76.6 533.22 L77.9 533.59 L79.2 534.60 L79.2 534.60 L77.9 535.55 L76.6 535.85 L75.3 536.03 L74.1 536.14 L72.8 536.20 L71.5 536.24 L70.2 536.26 L68.9 536.26 L67.6 536.26 L66.3 536.24 L65.0 536.23 L63.8 536.20 L62.5 536.16 L61.2 536.10 L59.9 536.04 L58.6 535.98 L57.3 535.90 L56.0 535.81 L54.7 535.69 L53.4 535.55 L52.2 535.37 L50.9 535.12 L49.6 534.76 L48.3 533.80Z" fill="#080808" opacity="1" filter="url(#b1)"/>
<path d="M80.6 535.00 L81.8 533.97 L82.9 533.63 L84.1 533.42 L85.2 533.28 L86.4 533.19 L87.5 533.13 L88.7 533.09 L89.9 533.06 L91.0 533.03 L92.2 533.02 L93.3 533.01 L94.5 533.00 L95.7 533.01 L96.8 533.02 L98.0 533.04 L99.1 533.07 L100.3 533.11 L101.5 533.16 L102.6 533.23 L103.8 533.33 L104.9 533.47 L106.1 533.68 L107.2 534.02 L108.4 535.00 L108.4 535.00 L107.2 535.98 L106.1 536.32 L104.9 536.53 L103.8 536.67 L102.6 536.77 L101.5 536.84 L100.3 536.89 L99.1 536.93 L98.0 536.96 L96.8 536.98 L95.7 536.99 L94.5 537.00 L93.3 536.99 L92.2 536.98 L91.0 536.97 L89.9 536.94 L88.7 536.91 L87.5 536.87 L86.4 536.81 L85.2 536.72 L84.1 536.58 L82.9 536.37 L81.8 536.03 L80.6 535.00Z" fill="#080808" opacity="1" filter="url(#b1)"/>
<path d="M109.8 535.20 L111.1 534.17 L112.5 533.85 L113.8 533.65 L115.2 533.53 L116.5 533.45 L117.8 533.39 L119.2 533.36 L120.5 533.34 L121.9 533.32 L123.2 533.31 L124.6 533.30 L125.9 533.30 L127.2 533.30 L128.6 533.31 L129.9 533.31 L131.3 533.32 L132.6 533.34 L133.9 533.36 L135.3 533.41 L136.6 533.48 L138.0 533.60 L139.3 533.79 L140.7 534.12 L142.0 535.20 L142.0 535.20 L140.7 536.28 L139.3 536.61 L138.0 536.80 L136.6 536.92 L135.3 536.99 L133.9 537.04 L132.6 537.06 L131.3 537.08 L129.9 537.09 L128.6 537.09 L127.2 537.10 L125.9 537.10 L124.6 537.10 L123.2 537.09 L121.9 537.08 L120.5 537.06 L119.2 537.04 L117.8 537.01 L116.5 536.95 L115.2 536.87 L113.8 536.75 L112.5 536.55 L111.1 536.23 L109.8 535.20Z" fill="#080808" opacity="1" filter="url(#b1)"/>
</g>
<text x="43.4" y="271.47" font-size="8.8" text-anchor="end" textLength="27.8" lengthAdjust="spacingAndGlyphs" fill="#1c1c1c">FOXO3</text>
<text x="43.3" y="303.97" font-size="8.8" text-anchor="end" textLength="35.2" lengthAdjust="spacingAndGlyphs" fill="#1c1c1c">p-FOXO3</text>
<text x="44" y="314.57" font-size="8.8" text-anchor="end" textLength="31.4" lengthAdjust="spacingAndGlyphs" fill="#1c1c1c">(Ser253)</text>
<text x="44" y="342.97" font-size="8.8" text-anchor="end" textLength="35.4" lengthAdjust="spacingAndGlyphs" fill="#1c1c1c">p-FOXO3</text>
<text x="44" y="352.77" font-size="8.8" text-anchor="end" textLength="31.7" lengthAdjust="spacingAndGlyphs" fill="#1c1c1c">(Ser413)</text>
<text x="43.4" y="385.77" font-size="8.8" text-anchor="end" textLength="15.8" lengthAdjust="spacingAndGlyphs" fill="#1c1c1c">AKT</text>
<text x="44" y="417.97" font-size="8.8" text-anchor="end" textLength="24" lengthAdjust="spacingAndGlyphs" fill="#1c1c1c">p-AKT</text>
<text x="44" y="427.77" font-size="8.8" text-anchor="end" textLength="31.7" lengthAdjust="spacingAndGlyphs" fill="#1c1c1c">(Ser473)</text>
<text x="44" y="461.57" font-size="8.8" text-anchor="end" textLength="23.5" lengthAdjust="spacingAndGlyphs" fill="#1c1c1c">AMPK</text>
<text x="44" y="494.17" font-size="8.8" text-anchor="end" textLength="31" lengthAdjust="spacingAndGlyphs" fill="#1c1c1c">p-AMPK</text>
<text x="44" y="503.77" font-size="8.8" text-anchor="end" textLength="31" lengthAdjust="spacingAndGlyphs" fill="#1c1c1c">(Thr172)</text>
<text x="44" y="537.17" font-size="8.8" text-anchor="end" textLength="19.4" lengthAdjust="spacingAndGlyphs" fill="#1c1c1c">Actin</text>
</g>
<g id="panelC">
<text x="153.6" y="226.6" font-size="12" font-weight="bold" fill="#000">C</text>
<rect x="201.25" y="288.75" width="13.75" height="25.45" fill="#2c4b80"/>
<rect x="223.25" y="269.5" width="13.75" height="44.70" fill="#65a544"/>
<rect x="245" y="261.5" width="13.75" height="52.70" fill="#a90730"/>
<line x1="230.1" y1="262" x2="230.1" y2="270" stroke="#111" stroke-width="1.3"/>
<line x1="226.35" y1="262" x2="233.85" y2="262" stroke="#111" stroke-width="1.3"/>
<line x1="251.9" y1="254.5" x2="251.9" y2="262" stroke="#111" stroke-width="1.3"/>
<line x1="248.15" y1="254.5" x2="255.65" y2="254.5" stroke="#111" stroke-width="1.3"/>
<line x1="193.75" y1="246.45" x2="193.75" y2="314.8" stroke="#111" stroke-width="1.5"/>
<line x1="193.15" y1="314.2" x2="266.25" y2="314.2" stroke="#111" stroke-width="1.5"/>
<line x1="190.35" y1="314.2" x2="193.75" y2="314.2" stroke="#111" stroke-width="1.25"/>
<line x1="190.35" y1="301.2" x2="193.75" y2="301.2" stroke="#111" stroke-width="1.25"/>
<line x1="190.35" y1="288.2" x2="193.75" y2="288.2" stroke="#111" stroke-width="1.25"/>
<line x1="190.35" y1="275.2" x2="193.75" y2="275.2" stroke="#111" stroke-width="1.25"/>
<line x1="190.35" y1="262.2" x2="193.75" y2="262.2" stroke="#111" stroke-width="1.25"/>
<line x1="190.35" y1="249.2" x2="193.75" y2="249.2" stroke="#111" stroke-width="1.25"/>
<text x="187.15" y="317.37" font-size="8.8" text-anchor="end" textLength="11" lengthAdjust="spacingAndGlyphs" fill="#1c1c1c">0.0</text>
<text x="187.15" y="304.37" font-size="8.8" text-anchor="end" textLength="11" lengthAdjust="spacingAndGlyphs" fill="#1c1c1c">0.5</text>
<text x="187.15" y="291.37" font-size="8.8" text-anchor="end" textLength="11" lengthAdjust="spacingAndGlyphs" fill="#1c1c1c">1.0</text>
<text x="187.15" y="278.37" font-size="8.8" text-anchor="end" textLength="11" lengthAdjust="spacingAndGlyphs" fill="#1c1c1c">1.5</text>
<text x="187.15" y="265.37" font-size="8.8" text-anchor="end" textLength="11" lengthAdjust="spacingAndGlyphs" fill="#1c1c1c">2.0</text>
<text x="187.15" y="252.37" font-size="8.8" text-anchor="end" textLength="11" lengthAdjust="spacingAndGlyphs" fill="#1c1c1c">2.5</text>
<line x1="208.25" y1="314.2" x2="208.25" y2="317.4" stroke="#111" stroke-width="1.25"/>
<line x1="230.5" y1="314.2" x2="230.5" y2="317.4" stroke="#111" stroke-width="1.25"/>
<line x1="252.5" y1="314.2" x2="252.5" y2="317.4" stroke="#111" stroke-width="1.25"/>
<text x="216.25" y="233.92" font-size="8.8" textLength="28" lengthAdjust="spacingAndGlyphs" fill="#1c1c1c">FOXO3</text>
<text transform="translate(170.05,280.5) rotate(-90)" font-size="9.6" text-anchor="middle" textLength="42" lengthAdjust="spacingAndGlyphs" fill="#1c1c1c">Fold change</text>
<text x="166.25" y="328.17" font-size="8.8" textLength="33.75" lengthAdjust="spacingAndGlyphs" fill="#1c1c1c">Met (µM)</text>
<text x="208.25" y="328.17" font-size="8.8" text-anchor="middle" fill="#1c1c1c">0</text>
<text x="230.5" y="328.17" font-size="8.8" text-anchor="middle" fill="#1c1c1c">50</text>
<text x="252.5" y="328.17" font-size="8.8" text-anchor="middle" fill="#1c1c1c">100</text>
<path d="M208 248.75V243.75H252V248.75" fill="none" stroke="#111" stroke-width="1.3"/>
<text x="230" y="244.29" font-size="9.2" font-weight="bold" text-anchor="middle" fill="#222" letter-spacing="-0.3">**</text>
<path d="M208 257.5V253H230V257.5" fill="none" stroke="#111" stroke-width="1.3"/>
<text x="219.5" y="253.29" font-size="9.2" font-weight="bold" text-anchor="middle" fill="#222" letter-spacing="-0.3">*</text>
<rect x="318.75" y="268" width="14.25" height="46.20" fill="#2c4b80"/>
<rect x="342" y="284.25" width="14.25" height="29.95" fill="#65a544"/>
<rect x="365" y="289.5" width="14.50" height="24.70" fill="#a90730"/>
<line x1="349.1" y1="273.25" x2="349.1" y2="285" stroke="#111" stroke-width="1.3"/>
<line x1="345.35" y1="273.25" x2="352.85" y2="273.25" stroke="#111" stroke-width="1.3"/>
<line x1="372.25" y1="282.5" x2="372.25" y2="290" stroke="#111" stroke-width="1.3"/>
<line x1="368.5" y1="282.5" x2="376.0" y2="282.5" stroke="#111" stroke-width="1.3"/>
<line x1="309.5" y1="240.95" x2="309.5" y2="314.8" stroke="#111" stroke-width="1.5"/>
<line x1="308.9" y1="314.2" x2="385.5" y2="314.2" stroke="#111" stroke-width="1.5"/>
<line x1="306.1" y1="314.2" x2="309.5" y2="314.2" stroke="#111" stroke-width="1.25"/>
<line x1="306.1" y1="290.7" x2="309.5" y2="290.7" stroke="#111" stroke-width="1.25"/>
<line x1="306.1" y1="267.2" x2="309.5" y2="267.2" stroke="#111" stroke-width="1.25"/>
<line x1="306.1" y1="243.7" x2="309.5" y2="243.7" stroke="#111" stroke-width="1.25"/>
<text x="302.9" y="317.37" font-size="8.8" text-anchor="end" textLength="11" lengthAdjust="spacingAndGlyphs" fill="#1c1c1c">0.0</text>
<text x="302.9" y="293.87" font-size="8.8" text-anchor="end" textLength="11" lengthAdjust="spacingAndGlyphs" fill="#1c1c1c">0.5</text>
<text x="302.9" y="270.37" font-size="8.8" text-anchor="end" textLength="11" lengthAdjust="spacingAndGlyphs" fill="#1c1c1c">1.0</text>
<text x="302.9" y="246.87" font-size="8.8" text-anchor="end" textLength="11" lengthAdjust="spacingAndGlyphs" fill="#1c1c1c">1.5</text>
<line x1="325.5" y1="314.2" x2="325.5" y2="317.4" stroke="#111" stroke-width="1.25"/>
<line x1="348.75" y1="314.2" x2="348.75" y2="317.4" stroke="#111" stroke-width="1.25"/>
<line x1="372.5" y1="314.2" x2="372.5" y2="317.4" stroke="#111" stroke-width="1.25"/>
<text x="314.5" y="234.42" font-size="8.8" textLength="69.25" lengthAdjust="spacingAndGlyphs" fill="#1c1c1c">p-FOXO3 (Ser253)</text>
<text transform="translate(285.80,278) rotate(-90)" font-size="9.6" text-anchor="middle" textLength="42" lengthAdjust="spacingAndGlyphs" fill="#1c1c1c">Fold change</text>
<text x="283" y="328.17" font-size="8.8" textLength="33.75" lengthAdjust="spacingAndGlyphs" fill="#1c1c1c">Met (µM)</text>
<text x="325.5" y="328.17" font-size="8.8" text-anchor="middle" fill="#1c1c1c">0</text>
<text x="348.75" y="328.17" font-size="8.8" text-anchor="middle" fill="#1c1c1c">50</text>
<text x="372.5" y="328.17" font-size="8.8" text-anchor="middle" fill="#1c1c1c">100</text>
<path d="M325.5 248V243.75H372V248" fill="none" stroke="#111" stroke-width="1.3"/>
<text x="349.25" y="244.29" font-size="9.2" font-weight="bold" text-anchor="middle" fill="#222" letter-spacing="-0.3">*</text>
<path d="M325.5 257V253H348.75V257" fill="none" stroke="#111" stroke-width="1.3"/>
<text x="337" y="252.06" font-size="7.8" text-anchor="middle" textLength="11.6" lengthAdjust="spacingAndGlyphs" fill="#1c1c1c">N.S</text>
<rect x="440.75" y="296.75" width="14.75" height="17.45" fill="#2c4b80"/>
<rect x="464.5" y="281.75" width="14.75" height="32.45" fill="#65a544"/>
<rect x="488" y="272" width="15.25" height="42.20" fill="#a90730"/>
<line x1="471.9" y1="274.25" x2="471.9" y2="282.5" stroke="#111" stroke-width="1.3"/>
<line x1="468.15" y1="274.25" x2="475.65" y2="274.25" stroke="#111" stroke-width="1.3"/>
<line x1="495.6" y1="262" x2="495.6" y2="272.5" stroke="#111" stroke-width="1.3"/>
<line x1="491.85" y1="262" x2="499.35" y2="262" stroke="#111" stroke-width="1.3"/>
<line x1="432" y1="239.2" x2="432" y2="314.8" stroke="#111" stroke-width="1.5"/>
<line x1="431.4" y1="314.2" x2="512.5" y2="314.2" stroke="#111" stroke-width="1.5"/>
<line x1="428.6" y1="314.2" x2="432" y2="314.2" stroke="#111" stroke-width="1.25"/>
<line x1="428.6" y1="296.15" x2="432" y2="296.15" stroke="#111" stroke-width="1.25"/>
<line x1="428.6" y1="278.09999999999997" x2="432" y2="278.09999999999997" stroke="#111" stroke-width="1.25"/>
<line x1="428.6" y1="260.04999999999995" x2="432" y2="260.04999999999995" stroke="#111" stroke-width="1.25"/>
<line x1="428.6" y1="242.0" x2="432" y2="242.0" stroke="#111" stroke-width="1.25"/>
<text x="425.4" y="317.37" font-size="8.8" text-anchor="end" textLength="11" lengthAdjust="spacingAndGlyphs" fill="#1c1c1c">0.0</text>
<text x="425.4" y="299.32" font-size="8.8" text-anchor="end" textLength="11" lengthAdjust="spacingAndGlyphs" fill="#1c1c1c">1.0</text>
<text x="425.4" y="281.27" font-size="8.8" text-anchor="end" textLength="11" lengthAdjust="spacingAndGlyphs" fill="#1c1c1c">2.0</text>
<text x="425.4" y="263.22" font-size="8.8" text-anchor="end" textLength="11" lengthAdjust="spacingAndGlyphs" fill="#1c1c1c">3.0</text>
<text x="425.4" y="245.17" font-size="8.8" text-anchor="end" textLength="11" lengthAdjust="spacingAndGlyphs" fill="#1c1c1c">4.0</text>
<line x1="448" y1="314.2" x2="448" y2="317.4" stroke="#111" stroke-width="1.25"/>
<line x1="472" y1="314.2" x2="472" y2="317.4" stroke="#111" stroke-width="1.25"/>
<line x1="496.25" y1="314.2" x2="496.25" y2="317.4" stroke="#111" stroke-width="1.25"/>
<text x="437.5" y="234.42" font-size="8.8" textLength="68.75" lengthAdjust="spacingAndGlyphs" fill="#1c1c1c">p-FOXO3 (Ser413)</text>
<text transform="translate(408.30,277.2) rotate(-90)" font-size="9.6" text-anchor="middle" textLength="42" lengthAdjust="spacingAndGlyphs" fill="#1c1c1c">Fold change</text>
<text x="403.75" y="328.17" font-size="8.8" textLength="33.75" lengthAdjust="spacingAndGlyphs" fill="#1c1c1c">Met (µM)</text>
<text x="448" y="328.17" font-size="8.8" text-anchor="middle" fill="#1c1c1c">0</text>
<text x="472" y="328.17" font-size="8.8" text-anchor="middle" fill="#1c1c1c">50</text>
<text x="496.25" y="328.17" font-size="8.8" text-anchor="middle" fill="#1c1c1c">100</text>
<path d="M448.25 248.25V244.5H495.5V248.25" fill="none" stroke="#111" stroke-width="1.3"/>
<text x="471.75" y="245.04" font-size="9.2" font-weight="bold" text-anchor="middle" fill="#222" letter-spacing="-0.3">*</text>
<path d="M448.25 257.5V253.75H472V257.5" fill="none" stroke="#111" stroke-width="1.3"/>
<text x="460.1" y="252.31" font-size="7.8" text-anchor="middle" textLength="11.6" lengthAdjust="spacingAndGlyphs" fill="#1c1c1c">N.S</text>
<rect x="261.25" y="386.25" width="15.00" height="45.75" fill="#2c4b80"/>
<rect x="284.5" y="382.5" width="15.00" height="49.50" fill="#65a544"/>
<rect x="308" y="384.25" width="15.00" height="47.75" fill="#a90730"/>
<line x1="292" y1="377.5" x2="292" y2="383" stroke="#111" stroke-width="1.3"/>
<line x1="288.25" y1="377.5" x2="295.75" y2="377.5" stroke="#111" stroke-width="1.3"/>
<line x1="315.5" y1="376.25" x2="315.5" y2="385" stroke="#111" stroke-width="1.3"/>
<line x1="311.75" y1="376.25" x2="319.25" y2="376.25" stroke="#111" stroke-width="1.3"/>
<line x1="253.25" y1="359.59999999999997" x2="253.25" y2="432.6" stroke="#111" stroke-width="1.5"/>
<line x1="252.65" y1="432" x2="332" y2="432" stroke="#111" stroke-width="1.5"/>
<line x1="249.85" y1="432.0" x2="253.25" y2="432.0" stroke="#111" stroke-width="1.25"/>
<line x1="249.85" y1="408.8" x2="253.25" y2="408.8" stroke="#111" stroke-width="1.25"/>
<line x1="249.85" y1="385.6" x2="253.25" y2="385.6" stroke="#111" stroke-width="1.25"/>
<line x1="249.85" y1="362.4" x2="253.25" y2="362.4" stroke="#111" stroke-width="1.25"/>
<text x="246.65" y="435.17" font-size="8.8" text-anchor="end" textLength="11" lengthAdjust="spacingAndGlyphs" fill="#1c1c1c">0.0</text>
<text x="246.65" y="411.97" font-size="8.8" text-anchor="end" textLength="11" lengthAdjust="spacingAndGlyphs" fill="#1c1c1c">0.5</text>
<text x="246.65" y="388.77" font-size="8.8" text-anchor="end" textLength="11" lengthAdjust="spacingAndGlyphs" fill="#1c1c1c">1.0</text>
<text x="246.65" y="365.57" font-size="8.8" text-anchor="end" textLength="11" lengthAdjust="spacingAndGlyphs" fill="#1c1c1c">1.5</text>
<line x1="268.75" y1="432" x2="268.75" y2="435.2" stroke="#111" stroke-width="1.25"/>
<line x1="292" y1="432" x2="292" y2="435.2" stroke="#111" stroke-width="1.25"/>
<line x1="315.5" y1="432" x2="315.5" y2="435.2" stroke="#111" stroke-width="1.25"/>
<text x="285" y="346.17" font-size="8.8" textLength="14.5" lengthAdjust="spacingAndGlyphs" fill="#1c1c1c">AKT</text>
<text transform="translate(229.55,396.4) rotate(-90)" font-size="9.6" text-anchor="middle" textLength="42" lengthAdjust="spacingAndGlyphs" fill="#1c1c1c">Fold change</text>
<text x="226.25" y="446.17" font-size="8.8" textLength="33.75" lengthAdjust="spacingAndGlyphs" fill="#1c1c1c">Met (µM)</text>
<text x="268.75" y="446.17" font-size="8.8" text-anchor="middle" fill="#1c1c1c">0</text>
<text x="292" y="446.17" font-size="8.8" text-anchor="middle" fill="#1c1c1c">50</text>
<text x="315.5" y="446.17" font-size="8.8" text-anchor="middle" fill="#1c1c1c">100</text>
<path d="M269.5 364.25V360H314.25V364.25" fill="none" stroke="#111" stroke-width="1.3"/>
<text x="292.25" y="358.31" font-size="7.8" text-anchor="middle" textLength="11.6" lengthAdjust="spacingAndGlyphs" fill="#1c1c1c">N.S</text>
<path d="M269.5 372.5V368.75H292V372.5" fill="none" stroke="#111" stroke-width="1.3"/>
<text x="280.4" y="367.81" font-size="7.8" text-anchor="middle" textLength="11.6" lengthAdjust="spacingAndGlyphs" fill="#1c1c1c">N.S</text>
<rect x="383.25" y="385.5" width="14.75" height="46.50" fill="#2c4b80"/>
<rect x="406.25" y="402.5" width="15.00" height="29.50" fill="#65a544"/>
<rect x="429.5" y="412.5" width="15.00" height="19.50" fill="#a90730"/>
<line x1="413.75" y1="394.25" x2="413.75" y2="403" stroke="#111" stroke-width="1.3"/>
<line x1="410.0" y1="394.25" x2="417.5" y2="394.25" stroke="#111" stroke-width="1.3"/>
<line x1="437" y1="410" x2="437" y2="413" stroke="#111" stroke-width="1.3"/>
<line x1="433.25" y1="410" x2="440.75" y2="410" stroke="#111" stroke-width="1.3"/>
<line x1="374.25" y1="359.59999999999997" x2="374.25" y2="432.6" stroke="#111" stroke-width="1.5"/>
<line x1="373.65" y1="432" x2="452.5" y2="432" stroke="#111" stroke-width="1.5"/>
<line x1="370.85" y1="432.0" x2="374.25" y2="432.0" stroke="#111" stroke-width="1.25"/>
<line x1="370.85" y1="408.8" x2="374.25" y2="408.8" stroke="#111" stroke-width="1.25"/>
<line x1="370.85" y1="385.6" x2="374.25" y2="385.6" stroke="#111" stroke-width="1.25"/>
<line x1="370.85" y1="362.4" x2="374.25" y2="362.4" stroke="#111" stroke-width="1.25"/>
<text x="367.65" y="435.17" font-size="8.8" text-anchor="end" textLength="11" lengthAdjust="spacingAndGlyphs" fill="#1c1c1c">0.0</text>
<text x="367.65" y="411.97" font-size="8.8" text-anchor="end" textLength="11" lengthAdjust="spacingAndGlyphs" fill="#1c1c1c">0.5</text>
<text x="367.65" y="388.77" font-size="8.8" text-anchor="end" textLength="11" lengthAdjust="spacingAndGlyphs" fill="#1c1c1c">1.0</text>
<text x="367.65" y="365.57" font-size="8.8" text-anchor="end" textLength="11" lengthAdjust="spacingAndGlyphs" fill="#1c1c1c">1.5</text>
<line x1="390" y1="432" x2="390" y2="435.2" stroke="#111" stroke-width="1.25"/>
<line x1="413.75" y1="432" x2="413.75" y2="435.2" stroke="#111" stroke-width="1.25"/>
<line x1="438.25" y1="432" x2="438.25" y2="435.2" stroke="#111" stroke-width="1.25"/>
<text x="385" y="349.42" font-size="8.8" textLength="57" lengthAdjust="spacingAndGlyphs" fill="#1c1c1c">p-AKT (Ser473)</text>
<text transform="translate(350.55,395.6) rotate(-90)" font-size="9.6" text-anchor="middle" textLength="42" lengthAdjust="spacingAndGlyphs" fill="#1c1c1c">Fold change</text>
<text x="347" y="446.17" font-size="8.8" textLength="33.75" lengthAdjust="spacingAndGlyphs" fill="#1c1c1c">Met (µM)</text>
<text x="390" y="446.17" font-size="8.8" text-anchor="middle" fill="#1c1c1c">0</text>
<text x="413.75" y="446.17" font-size="8.8" text-anchor="middle" fill="#1c1c1c">50</text>
<text x="438.25" y="446.17" font-size="8.8" text-anchor="middle" fill="#1c1c1c">100</text>
<path d="M391.25 363.75V359.5H434.5V363.75" fill="none" stroke="#111" stroke-width="1.3"/>
<text x="413.25" y="359.54" font-size="9.2" font-weight="bold" text-anchor="middle" fill="#222" letter-spacing="-0.3">**</text>
<path d="M391.25 372V368.25H413V372" fill="none" stroke="#111" stroke-width="1.3"/>
<text x="402.5" y="368.79" font-size="9.2" font-weight="bold" text-anchor="middle" fill="#222" letter-spacing="-0.3">*</text>
<rect x="261.25" y="505.75" width="15.00" height="45.65" fill="#2c4b80"/>
<rect x="284.5" y="501" width="15.00" height="50.40" fill="#65a544"/>
<rect x="308" y="499" width="15.00" height="52.40" fill="#a90730"/>
<line x1="292" y1="494.5" x2="292" y2="501.5" stroke="#111" stroke-width="1.3"/>
<line x1="288.25" y1="494.5" x2="295.75" y2="494.5" stroke="#111" stroke-width="1.3"/>
<line x1="315.5" y1="491.5" x2="315.5" y2="499.5" stroke="#111" stroke-width="1.3"/>
<line x1="311.75" y1="491.5" x2="319.25" y2="491.5" stroke="#111" stroke-width="1.3"/>
<line x1="253.25" y1="479.45" x2="253.25" y2="552.0" stroke="#111" stroke-width="1.5"/>
<line x1="252.65" y1="551.4" x2="332" y2="551.4" stroke="#111" stroke-width="1.5"/>
<line x1="249.85" y1="551.4" x2="253.25" y2="551.4" stroke="#111" stroke-width="1.25"/>
<line x1="249.85" y1="528.35" x2="253.25" y2="528.35" stroke="#111" stroke-width="1.25"/>
<line x1="249.85" y1="505.29999999999995" x2="253.25" y2="505.29999999999995" stroke="#111" stroke-width="1.25"/>
<line x1="249.85" y1="482.25" x2="253.25" y2="482.25" stroke="#111" stroke-width="1.25"/>
<text x="246.65" y="554.57" font-size="8.8" text-anchor="end" textLength="11" lengthAdjust="spacingAndGlyphs" fill="#1c1c1c">0.0</text>
<text x="246.65" y="531.52" font-size="8.8" text-anchor="end" textLength="11" lengthAdjust="spacingAndGlyphs" fill="#1c1c1c">0.5</text>
<text x="246.65" y="508.47" font-size="8.8" text-anchor="end" textLength="11" lengthAdjust="spacingAndGlyphs" fill="#1c1c1c">1.0</text>
<text x="246.65" y="485.42" font-size="8.8" text-anchor="end" textLength="11" lengthAdjust="spacingAndGlyphs" fill="#1c1c1c">1.5</text>
<line x1="268.75" y1="551.4" x2="268.75" y2="554.6" stroke="#111" stroke-width="1.25"/>
<line x1="292" y1="551.4" x2="292" y2="554.6" stroke="#111" stroke-width="1.25"/>
<line x1="315.5" y1="551.4" x2="315.5" y2="554.6" stroke="#111" stroke-width="1.25"/>
<text x="280" y="463.92" font-size="8.8" textLength="23.75" lengthAdjust="spacingAndGlyphs" fill="#1c1c1c">AMPK</text>
<text transform="translate(229.55,514.9) rotate(-90)" font-size="9.6" text-anchor="middle" textLength="42" lengthAdjust="spacingAndGlyphs" fill="#1c1c1c">Fold change</text>
<text x="226.25" y="565.17" font-size="8.8" textLength="33.75" lengthAdjust="spacingAndGlyphs" fill="#1c1c1c">Met (µM)</text>
<text x="268.75" y="565.17" font-size="8.8" text-anchor="middle" fill="#1c1c1c">0</text>
<text x="292" y="565.17" font-size="8.8" text-anchor="middle" fill="#1c1c1c">50</text>
<text x="315.5" y="565.17" font-size="8.8" text-anchor="middle" fill="#1c1c1c">100</text>
<path d="M268.75 482.5V478.75H315.5V482.5" fill="none" stroke="#111" stroke-width="1.3"/>
<text x="292.25" y="476.31" font-size="7.8" text-anchor="middle" textLength="11.6" lengthAdjust="spacingAndGlyphs" fill="#1c1c1c">N.S</text>
<path d="M268.75 490.75V487H292V490.75" fill="none" stroke="#111" stroke-width="1.3"/>
<text x="280.6" y="485.91" font-size="7.8" text-anchor="middle" textLength="11.6" lengthAdjust="spacingAndGlyphs" fill="#1c1c1c">N.S</text>
<rect x="383.5" y="527.7" width="15.30" height="23.70" fill="#2c4b80"/>
<rect x="407" y="516" width="15.00" height="35.40" fill="#65a544"/>
<rect x="431.25" y="500.25" width="15.75" height="51.15" fill="#a90730"/>
<line x1="414.5" y1="511.3" x2="414.5" y2="516.5" stroke="#111" stroke-width="1.3"/>
<line x1="410.75" y1="511.3" x2="418.25" y2="511.3" stroke="#111" stroke-width="1.3"/>
<line x1="439.1" y1="490.25" x2="439.1" y2="501" stroke="#111" stroke-width="1.3"/>
<line x1="435.35" y1="490.25" x2="442.85" y2="490.25" stroke="#111" stroke-width="1.3"/>
<line x1="374.25" y1="475.8" x2="374.25" y2="552.0" stroke="#111" stroke-width="1.5"/>
<line x1="373.65" y1="551.4" x2="452.5" y2="551.4" stroke="#111" stroke-width="1.5"/>
<line x1="370.85" y1="551.4" x2="374.25" y2="551.4" stroke="#111" stroke-width="1.25"/>
<line x1="370.85" y1="527.25" x2="374.25" y2="527.25" stroke="#111" stroke-width="1.25"/>
<line x1="370.85" y1="503.4" x2="374.25" y2="503.4" stroke="#111" stroke-width="1.25"/>
<line x1="370.85" y1="478.6" x2="374.25" y2="478.6" stroke="#111" stroke-width="1.25"/>
<text x="367.65" y="554.57" font-size="8.8" text-anchor="end" textLength="11" lengthAdjust="spacingAndGlyphs" fill="#1c1c1c">0.0</text>
<text x="367.65" y="536.37" font-size="8.8" text-anchor="end" textLength="11" lengthAdjust="spacingAndGlyphs" fill="#1c1c1c">1.0</text>
<text x="367.65" y="518.17" font-size="8.8" text-anchor="end" textLength="11" lengthAdjust="spacingAndGlyphs" fill="#1c1c1c">2.0</text>
<text x="367.65" y="499.97" font-size="8.8" text-anchor="end" textLength="11" lengthAdjust="spacingAndGlyphs" fill="#1c1c1c">3.0</text>
<text x="367.65" y="481.77" font-size="8.8" text-anchor="end" textLength="11" lengthAdjust="spacingAndGlyphs" fill="#1c1c1c">4.0</text>
<line x1="390" y1="551.4" x2="390" y2="554.6" stroke="#111" stroke-width="1.25"/>
<line x1="413.75" y1="551.4" x2="413.75" y2="554.6" stroke="#111" stroke-width="1.25"/>
<line x1="438.25" y1="551.4" x2="438.25" y2="554.6" stroke="#111" stroke-width="1.25"/>
<text x="383.4" y="467.67" font-size="8.8" textLength="64.2" lengthAdjust="spacingAndGlyphs" fill="#1c1c1c">p-AMPK (Thr172)</text>
<text transform="translate(350.55,515) rotate(-90)" font-size="9.6" text-anchor="middle" textLength="42" lengthAdjust="spacingAndGlyphs" fill="#1c1c1c">Fold change</text>
<text x="347" y="565.17" font-size="8.8" textLength="33.75" lengthAdjust="spacingAndGlyphs" fill="#1c1c1c">Met (µM)</text>
<text x="390" y="565.17" font-size="8.8" text-anchor="middle" fill="#1c1c1c">0</text>
<text x="413.75" y="565.17" font-size="8.8" text-anchor="middle" fill="#1c1c1c">50</text>
<text x="438.25" y="565.17" font-size="8.8" text-anchor="middle" fill="#1c1c1c">100</text>
<path d="M391.25 481.25V478H438V481.25" fill="none" stroke="#111" stroke-width="1.3"/>
<text x="415.75" y="478.04" font-size="9.2" font-weight="bold" text-anchor="middle" fill="#222" letter-spacing="-0.3">**</text>
<path d="M391.25 489.5V486.25H415.5V489.5" fill="none" stroke="#111" stroke-width="1.3"/>
<text x="403.75" y="485.31" font-size="7.8" text-anchor="middle" textLength="11.6" lengthAdjust="spacingAndGlyphs" fill="#1c1c1c">N.S</text>
</g>
</g>
<rect x="0" y="0" width="520" height="1" fill="#000"/>
<rect x="0" y="0" width="1.4" height="574" fill="#000"/>
<rect x="518.8" y="0" width="1.2" height="574" fill="#000"/>
<rect x="0" y="572.5" width="520" height="1.5" fill="#000"/>
</svg></body></html>
